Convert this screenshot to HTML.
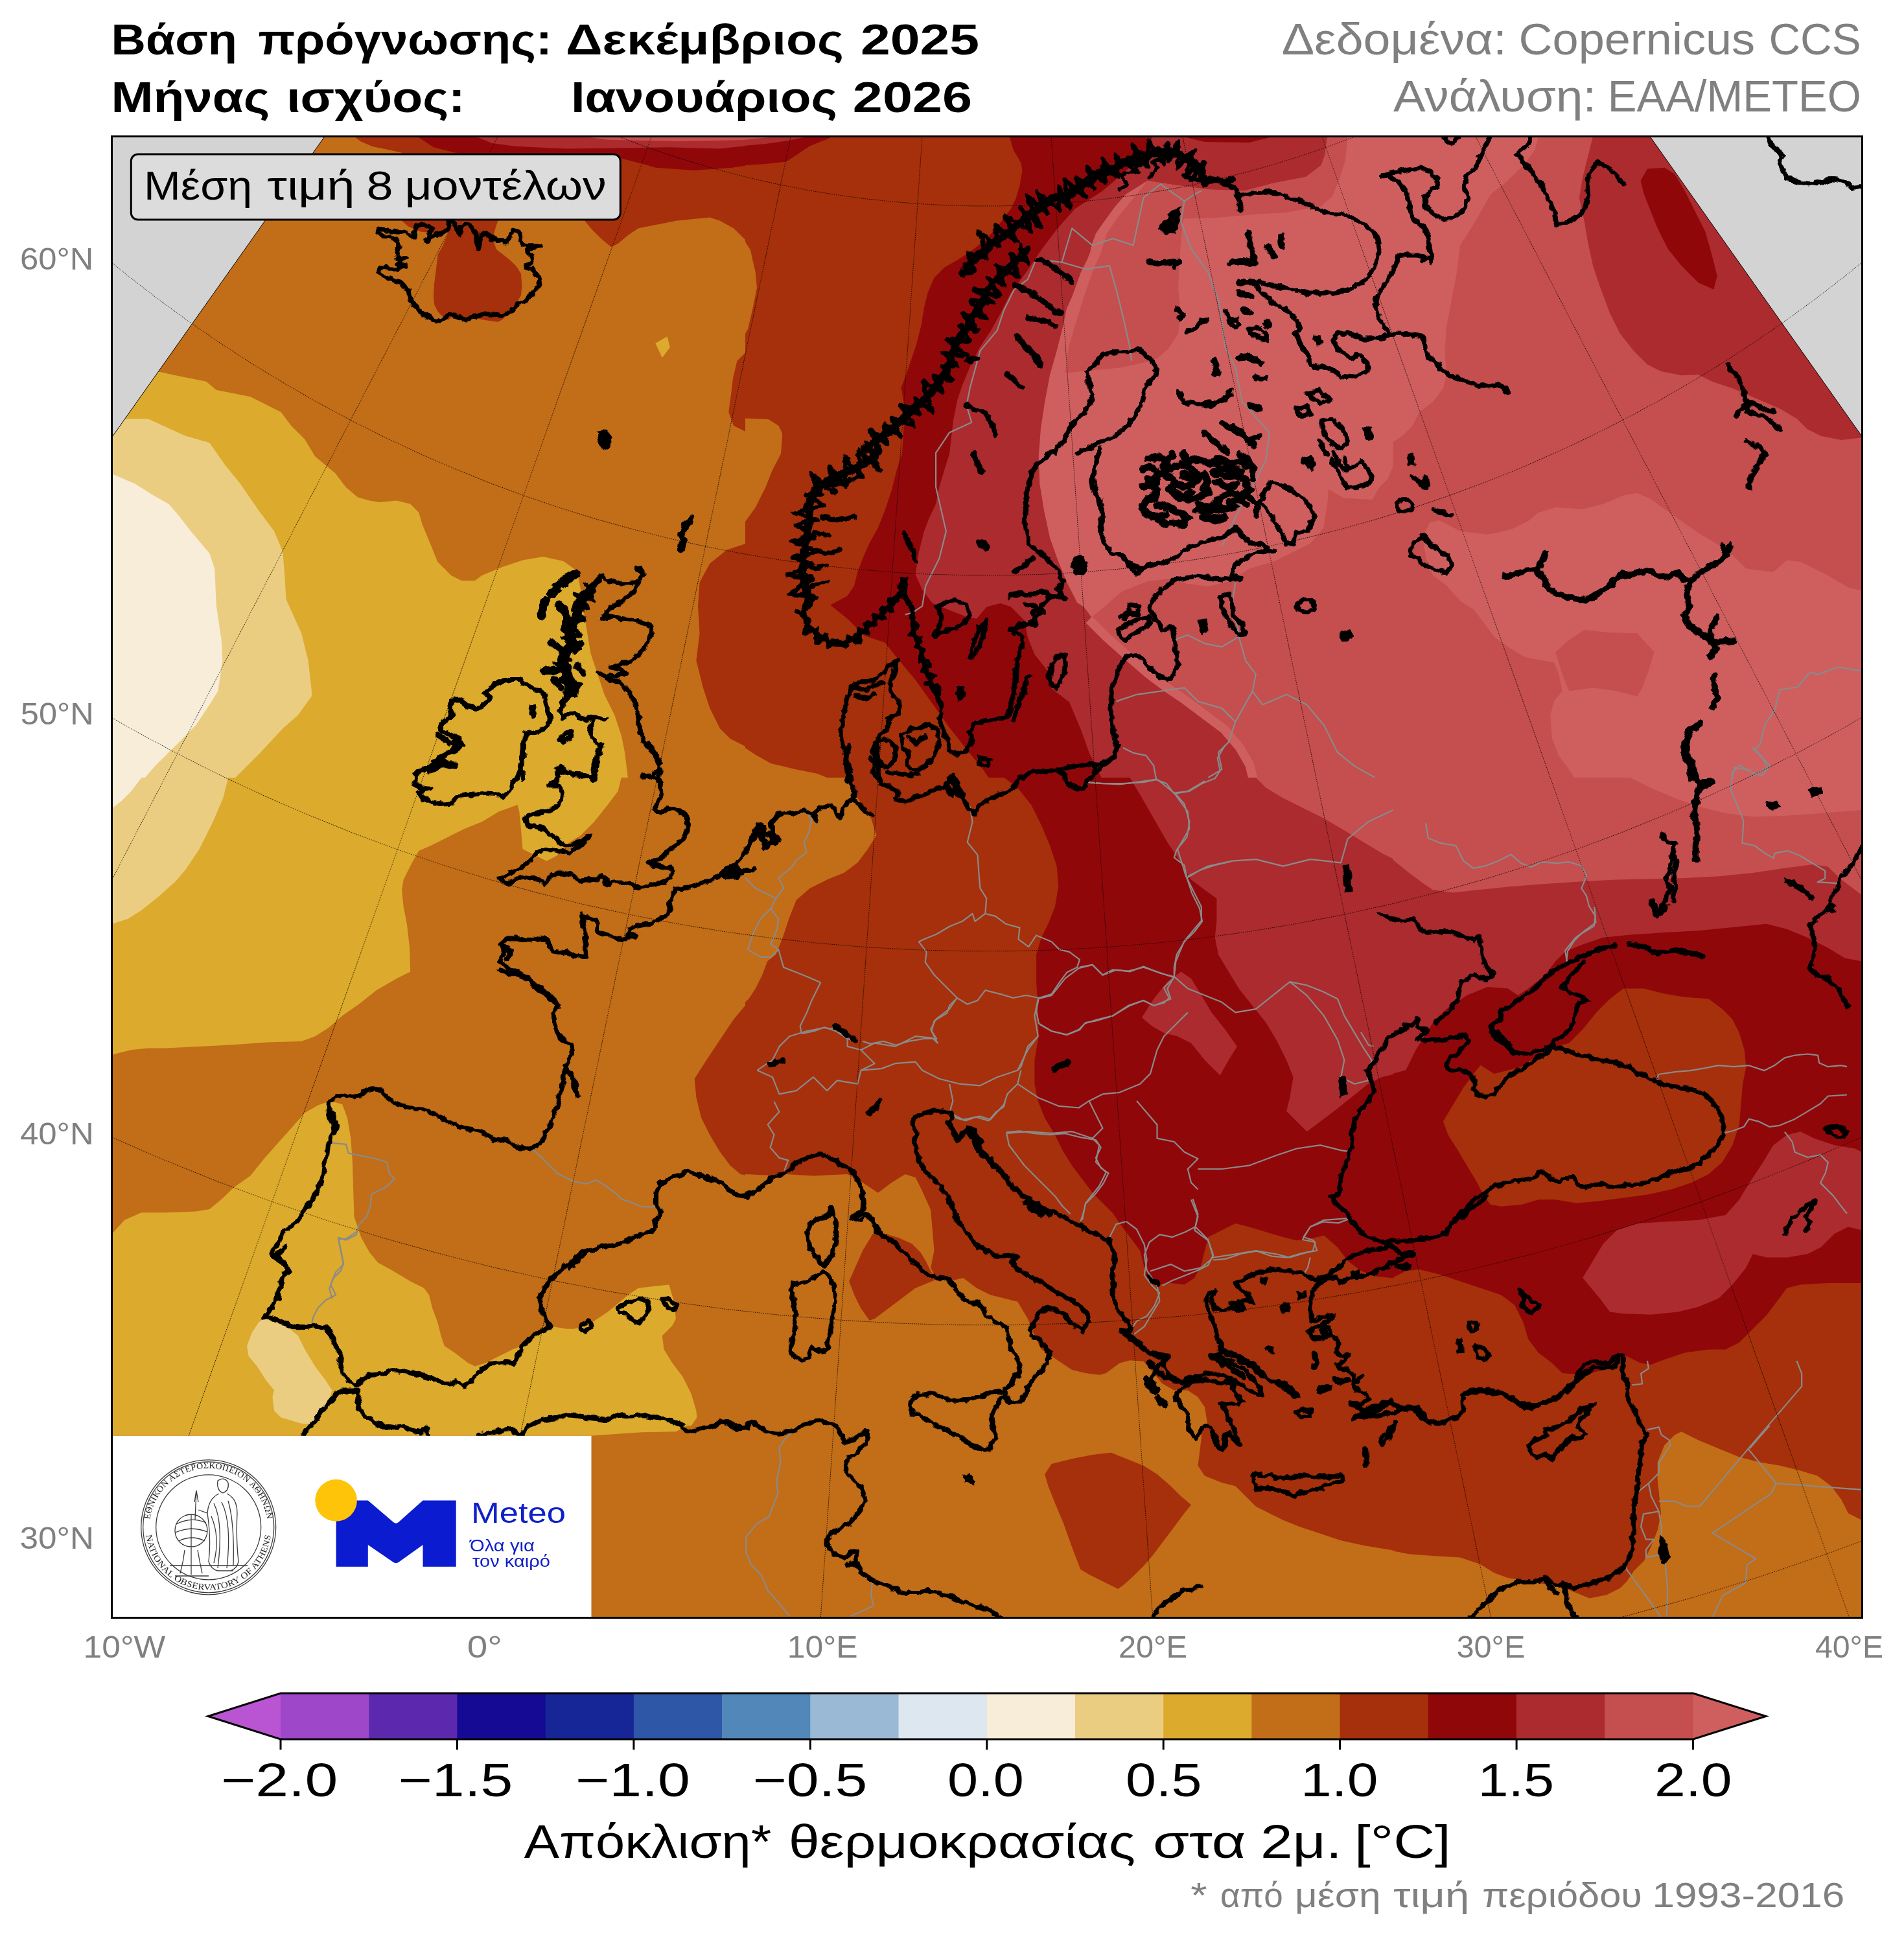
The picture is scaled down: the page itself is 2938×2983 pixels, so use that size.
<!DOCTYPE html>
<html><head><meta charset="utf-8"><title>map</title>
<style>html,body{margin:0;padding:0;background:#fff}svg{display:block}text{font-family:"Liberation Sans",sans-serif}</style>
</head><body>
<svg width="2938" height="2983" viewBox="0 0 2938 2983">
<defs><clipPath id="cA"><rect x="150" y="200" width="1000" height="1000"/></clipPath><clipPath id="cB"><rect x="1150" y="200" width="1000" height="1000"/></clipPath><clipPath id="cC"><rect x="2150" y="200" width="788" height="1000"/></clipPath><clipPath id="cD"><rect x="150" y="1200" width="1000" height="1000"/></clipPath><clipPath id="cE"><rect x="1150" y="1200" width="1000" height="1000"/></clipPath><clipPath id="cF"><rect x="2150" y="1200" width="788" height="1000"/></clipPath><clipPath id="cG"><rect x="150" y="2200" width="1000" height="400"/></clipPath><clipPath id="cH"><rect x="1150" y="2200" width="1000" height="400"/></clipPath><clipPath id="cI"><rect x="2150" y="2200" width="788" height="400"/></clipPath><filter id="rough" x="0" y="0" width="2938" height="2983" filterUnits="userSpaceOnUse"><feTurbulence type="fractalNoise" baseFrequency="0.09" numOctaves="2" seed="3" result="n"/><feDisplacementMap in="SourceGraphic" in2="n" scale="9" xChannelSelector="R" yChannelSelector="G"/></filter><clipPath id="fr"><rect x="172.5" y="210.5" width="2701.0" height="2286.0"/></clipPath></defs>
<rect width="2938" height="2983" fill="#fff"/>
<g clip-path="url(#fr)">
<g shape-rendering="geometricPrecision">
<g clip-path="url(#cA)"><rect x="150" y="200" width="1000" height="1000" fill="#c26d18"/>
<polygon fill="#dcaa2c" points="247.2,573.9 270.8,579.2 318.1,588.7 333.8,601.8 360.1,607.0 386.3,612.3 407.4,622.8 433.6,635.9 449.4,656.9 470.4,677.9 486.1,704.2 517.6,730.5 533.4,751.5 551.8,767.2 570.2,772.5 585.9,775.1 612.2,772.5 633.2,777.7 646.3,790.9 651.6,809.2 664.7,840.8 675.2,867.0 696.2,888.0 712.0,895.9 733.0,895.9 743.5,888.0 775.0,874.9 806.5,864.4 838.0,859.1 869.5,866.0 890.5,881.2 895.8,909.0 901.1,945.8 906.3,977.3 911.6,1008.8 922.1,1040.3 932.6,1071.8 948.3,1103.4 958.8,1134.9 964.1,1161.1 969.3,1203.2 150.0,1203.2 150.0,573.9"/>
<polygon fill="#ebcd82" points="192.0,646.4 228.8,646.4 262.9,662.2 286.6,672.7 323.3,683.2 347.0,717.3 370.6,746.2 399.5,788.2 423.1,819.7 436.2,851.3 438.9,882.8 441.5,924.8 465.1,977.3 475.6,1019.3 480.9,1066.6 480.9,1074.5 459.9,1103.4 436.2,1124.4 402.1,1161.1 381.1,1182.1 360.1,1203.2 150.0,1203.2 150.0,646.4"/>
<polygon fill="#f8edd8" points="173.1,731.5 207.8,746.2 236.7,764.6 260.3,777.7 276.1,796.1 294.4,819.7 323.3,853.9 331.2,877.5 333.8,935.3 341.7,987.8 343.3,1019.3 336.4,1066.6 323.3,1087.6 302.3,1119.1 276.1,1145.4 260.3,1161.1 239.3,1182.1 220.9,1203.2 150.0,1203.2 150.0,731.5"/>
<polygon fill="#a5300b" points="546.5,200.0 546.5,210.5 557.0,218.4 575.4,226.3 601.7,231.5 620.1,235.7 620.1,339.2 901.1,339.2 911.6,352.3 927.3,368.1 943.1,381.2 953.6,375.9 969.3,362.8 985.1,352.3 1011.3,347.1 1042.9,340.8 1074.4,337.6 1095.4,335.5 1111.1,340.8 1132.1,352.3 1153.2,373.3 1153.2,200.0"/>
<polygon fill="#a5300b" points="620.6,305.0 620.6,341.3 630.6,349.7 648.9,357.6 675.2,360.2 691.5,359.1 683.6,378.6 675.7,392.8 672.6,418.0 670.0,437.9 668.9,457.4 670.0,469.4 675.7,481.0 683.6,488.9 691.5,494.1 697.3,488.9 717.2,488.9 736.7,492.0 756.6,495.2 768.2,496.7 773.9,494.1 781.8,487.3 789.7,477.3 797.6,467.3 803.9,455.8 805.5,441.6 803.9,422.2 796.0,410.1 786.0,400.6 776.1,392.8 766.1,384.9 762.4,374.9 762.4,359.1 766.1,347.1 768.2,341.3 768.2,305.0"/>
<polygon fill="#90070a" points="643.7,200.0 645.3,211.6 668.9,227.3 700.4,235.2 727.7,239.4 832.8,241.0 952.5,243.1 990.3,252.5 1011.9,258.8 1070.7,263.0 1130.0,258.8 1154.2,255.1 1154.2,200.0"/>
<polygon fill="#ab2b2e" points="736.1,200.0 736.1,211.6 759.2,221.0 795.0,225.7 873.7,229.4 952.5,228.4 1031.3,227.3 1110.1,229.4 1154.2,224.7 1154.2,200.0"/>
<polygon fill="#c54e4e" points="906.3,200.0 906.3,211.6 937.8,215.8 1042.9,217.9 1154.2,215.8 1154.2,200.0"/>
<polygon fill="#a5300b" points="1153.2,541.4 1137.4,557.1 1131.1,583.4 1127.9,609.7 1124.3,635.9 1132.1,656.9 1153.2,667.4"/>
<polygon fill="#a5300b" points="1153.2,838.1 1121.6,848.6 1095.4,869.6 1079.6,898.5 1077.0,935.3 1079.6,977.3 1074.4,1019.3 1084.9,1061.3 1095.4,1092.9 1111.1,1124.4 1126.9,1140.1 1153.2,1153.3"/>
<polygon fill="#dcaa2c" points="1011.3,529.8 1029.7,519.3 1033.9,536.1 1021.8,551.9"/></g>
<g clip-path="url(#cB)"><rect x="1150" y="200" width="1000" height="1000" fill="#a5300b"/>
<polygon fill="#c26d18" points="1150.0,373.3 1157.9,385.4 1165.8,420.6 1167.9,444.2 1161.6,475.7 1154.2,507.2 1150.0,515.1"/>
<polygon fill="#c26d18" points="1150.0,645.4 1185.7,647.0 1201.5,656.9 1207.2,669.0 1205.1,700.0 1192.0,725.2 1181.5,751.5 1165.8,783.0 1150.0,805.0"/>
<polygon fill="#c26d18" points="1150.0,1154.3 1165.8,1164.8 1189.4,1177.9 1228.8,1187.4 1260.3,1193.7 1286.6,1204.2 1150.0,1204.2"/>
<polygon fill="#90070a" points="1557.6,200.0 1557.6,211.0 1563.9,231.5 1575.4,251.5 1577.5,263.0 1573.3,286.7 1567.5,306.6 1559.7,322.4 1548.1,338.1 1536.0,353.9 1516.6,373.3 1496.6,389.1 1477.2,401.2 1457.2,412.7 1441.5,428.5 1431.5,452.1 1425.7,475.7 1422.1,499.4 1414.2,530.9 1406.3,554.5 1398.4,578.2 1390.5,598.1 1394.2,617.5 1396.3,633.3 1394.2,664.8 1392.1,700.0 1383.7,725.2 1375.8,756.7 1365.3,788.2 1354.8,814.5 1341.7,838.1 1331.2,861.8 1323.3,882.8 1318.1,903.8 1307.6,919.5 1281.3,933.7 1307.6,954.7 1333.8,981.0 1365.3,991.5 1386.3,1017.8 1412.6,1049.3 1438.9,1086.0 1465.1,1122.8 1494.0,1159.6 1517.6,1188.4 1528.2,1204.2 2154.2,1204.2 2154.2,200.0"/>
<polygon fill="#90070a" points="1150.0,200.0 1150.0,255.1 1181.5,253.0 1213.0,249.4 1228.8,239.4 1248.7,225.7 1276.1,214.7 1283.9,211.0 1283.9,200.0"/>
<polygon fill="#ab2b2e" points="1150.0,200.0 1150.0,224.7 1181.5,222.1 1218.3,216.8 1244.5,211.0 1244.5,200.0"/>
<polygon fill="#c54e4e" points="1150.0,200.0 1150.0,215.8 1181.5,212.6 1202.5,211.0 1202.5,200.0"/>
<polygon fill="#ab2b2e" points="1778.7,200.0 1778.7,210.5 1769.7,231.5 1738.2,263.0 1701.5,294.5 1658.4,322.4 1630.6,353.9 1606.9,385.4 1583.3,420.6 1559.7,452.1 1543.9,483.6 1528.2,511.4 1512.4,535.1 1496.6,566.6 1485.1,593.9 1477.2,617.5 1470.9,649.1 1465.1,700.0 1457.2,725.2 1449.4,751.5 1444.1,777.7 1433.6,799.8 1425.7,820.8 1417.9,852.3 1412.6,886.4 1423.1,910.1 1438.9,931.1 1465.1,941.6 1491.4,952.1 1507.1,954.7 1522.9,936.3 1543.9,931.1 1559.7,936.3 1580.7,957.4 1585.9,983.6 1596.4,1009.9 1617.4,1036.1 1622.7,1062.4 1650.0,1083.4 1667.3,1124.4 1680.5,1161.1 1701.5,1204.2 2154.2,1204.2 2154.2,200.0"/>
<polygon fill="#90070a" points="1825.9,200.0 1825.9,211.0 1859.0,218.9 1927.3,220.0 1963.6,211.0 1963.6,200.0"/>
<polygon fill="#cf5f5f" points="2048.1,200.0 2048.1,211.6 2044.4,239.4 2038.7,255.1 2015.0,273.0 1963.6,283.0 1920.5,294.5 1865.3,292.4 1806.0,284.6 1770.8,278.8 1737.2,299.8 1719.9,319.7 1708.8,335.0 1700.9,346.0 1691.0,360.2 1685.2,375.9 1682.0,390.1 1676.8,402.2 1667.9,420.1 1660.0,442.1 1654.2,457.9 1645.8,476.3 1641.1,499.9 1630.6,541.4 1620.1,578.2 1612.2,620.2 1605.9,662.2 1602.7,704.2 1604.3,746.2 1611.1,788.2 1620.1,830.3 1633.2,867.0 1646.3,898.5 1662.1,930.0 1672.1,936.3 1707.8,983.6 1739.3,1011.4 1770.8,1038.8 1802.3,1062.4 1825.9,1078.2 1857.5,1101.8 1889.0,1125.4 1912.6,1153.3 1928.4,1180.6 1934.1,1204.2 2154.2,1204.2 2154.2,200.0"/>
<polygon fill="#c54e4e" points="1770.8,278.8 1806.0,284.6 1865.3,292.4 1920.5,294.5 1963.6,283.0 2015.0,273.0 2038.7,255.1 2044.4,239.4 2048.1,211.6 2079.6,211.6 2075.9,247.3 2066.0,278.8 2056.0,302.4 2038.7,318.2 1983.5,328.2 1944.1,330.3 1876.9,336.0 1825.9,337.6 1821.7,377.5 1819.6,416.4 1818.1,444.2 1821.7,483.6 1818.1,515.1 1802.3,538.8 1786.6,552.4 1770.8,558.2 1727.7,567.6 1643.7,575.5 1648.9,536.1 1659.5,499.9 1672.6,457.9 1685.7,420.1 1698.8,390.1 1707.8,360.2 1725.1,335.0 1754.0,299.8"/>
<polygon fill="#c54e4e" points="1680.5,956.3 1731.4,912.7 1770.8,897.0 1802.3,893.3 1833.8,901.2 1865.3,904.8 1896.8,897.0 1928.4,877.5 1967.8,865.4 1991.4,853.9 2022.9,838.1 2042.3,814.5 2048.1,778.8 2050.2,755.1 2073.8,768.8 2117.4,770.9 2129.0,751.5 2141.1,739.4 2152.6,712.1 2154.2,700.0 2154.2,1204.2 1934.1,1204.2 1928.4,1180.6 1912.6,1153.3 1889.0,1125.4 1857.5,1101.8 1825.9,1078.2 1802.3,1062.4 1770.8,1038.8 1739.3,1011.4 1707.8,983.6"/>
<polyline fill="none" stroke="#cf5f5f" stroke-width="14" stroke-linejoin="round" points="1680.5,956.3 1707.8,983.6 1739.3,1011.4 1770.8,1038.8 1802.3,1062.4 1825.9,1078.2 1857.5,1101.8 1889.0,1125.4 1912.6,1153.3 1928.4,1180.6 1934.1,1204.2"/></g>
<g clip-path="url(#cC)"><rect x="2150" y="200" width="788" height="1000" fill="#c54e4e"/>
<polygon fill="#cf5f5f" points="2095.6,200.0 2373.9,200.0 2373.9,210.5 2368.7,231.5 2352.9,252.5 2326.7,278.8 2300.4,299.8 2279.4,336.6 2263.6,362.8 2253.1,378.6 2247.9,420.6 2240.0,462.6 2232.1,504.6 2229.5,541.4 2232.1,578.2 2226.9,599.2 2211.1,620.2 2190.1,635.9 2179.6,656.9 2163.8,672.7 2148.1,683.2 2132.3,693.7 2121.8,714.7 2116.6,746.2 2095.6,756.7"/>
<polygon fill="#cf5f5f" points="2205.9,806.6 2221.6,802.9 2253.1,819.7 2295.1,825.0 2331.9,817.1 2358.2,804.0 2373.9,790.9 2400.2,783.0 2442.2,785.6 2473.7,777.7 2505.2,764.6 2526.2,760.9 2547.2,769.9 2568.3,785.6 2594.5,804.0 2620.8,822.4 2647.0,838.1 2673.3,856.5 2694.3,877.5 2736.3,882.8 2757.3,864.4 2778.3,867.0 2820.4,888.0 2851.9,906.4 2872.9,911.7 2942.2,914.3 2942.2,1204.2 2431.7,1204.2 2421.2,1187.4 2405.4,1166.4 2394.9,1140.1 2392.3,1103.4 2397.6,1082.4 2410.7,1066.6 2405.4,1040.3 2397.6,1022.0 2379.2,1019.3 2352.9,1014.1 2326.7,998.3 2305.6,982.6 2289.9,961.6 2274.1,940.5 2253.1,927.4 2232.1,903.8 2211.1,888.0 2200.6,861.8 2195.4,830.3"/>
<polygon fill="#c54e4e" points="2400.2,1006.2 2421.2,987.8 2444.8,972.1 2484.2,976.3 2526.2,977.3 2552.5,1006.2 2542.0,1040.3 2534.1,1061.3 2526.2,1074.5 2494.7,1066.6 2458.0,1061.3 2421.2,1066.6 2410.7,1040.3"/>
<polygon fill="#ab2b2e" points="2458.0,200.0 2458.0,210.5 2450.1,242.0 2442.2,273.5 2436.9,305.0 2444.8,341.8 2450.1,373.3 2458.0,410.1 2468.5,441.6 2484.2,483.6 2500.0,515.1 2521.0,541.4 2542.0,562.4 2563.0,572.9 2594.5,579.2 2620.8,578.2 2641.8,588.7 2673.3,599.2 2710.1,614.9 2746.8,630.7 2773.1,646.4 2788.8,662.2 2809.8,672.7 2841.4,679.0 2872.9,675.3 2942.2,675.3 2942.2,200.0"/>
<polygon fill="#90070a" points="2542.0,260.4 2568.3,258.8 2584.0,268.3 2599.8,294.5 2615.5,326.1 2631.3,357.6 2641.8,394.3 2649.7,425.8 2644.4,446.8 2620.8,436.3 2594.5,410.1 2573.5,383.8 2557.7,352.3 2547.2,326.1 2536.7,299.8 2531.5,278.8"/></g>
<g clip-path="url(#cD)"><rect x="150" y="1200" width="1000" height="1000" fill="#dcaa2c"/>
<polygon fill="#ebcd82" points="150.0,1200.0 352.2,1200.0 344.3,1231.5 328.6,1268.3 307.6,1310.3 286.6,1341.8 270.8,1360.2 244.5,1383.8 218.3,1404.8 197.3,1418.0 173.1,1425.8 150.0,1431.1"/>
<polygon fill="#f8edd8" points="150.0,1200.0 218.3,1200.0 202.5,1221.0 186.8,1236.8 173.1,1247.3 150.0,1252.5"/>
<polygon fill="#c26d18" points="958.8,1200.0 953.6,1221.0 937.8,1242.0 916.8,1268.3 895.8,1289.3 874.8,1302.4 859.0,1320.8 843.3,1328.7 827.5,1320.8 806.5,1310.3 803.9,1278.8 801.3,1252.5 798.6,1242.0 769.7,1252.5 743.5,1268.3 717.2,1278.8 685.7,1294.5 664.7,1305.0 646.3,1312.9 635.8,1331.3 622.7,1357.6 620.1,1373.3 622.7,1399.6 627.9,1425.8 632.1,1462.6 633.2,1499.4 612.2,1509.9 580.7,1528.3 554.4,1549.3 528.2,1567.6 507.1,1586.0 486.1,1599.2 465.1,1607.0 412.6,1608.6 360.1,1612.3 307.6,1614.9 255.0,1617.5 228.8,1617.5 202.5,1620.2 181.5,1625.4 173.1,1628.0 150.0,1630.7 150.0,1919.5 173.1,1903.8 192.0,1882.8 218.3,1871.2 255.0,1871.2 302.3,1869.6 323.3,1866.0 344.3,1848.6 360.1,1832.9 386.3,1814.5 407.4,1788.2 428.4,1764.6 449.4,1741.0 470.4,1717.3 491.4,1705.3 509.8,1698.9 528.2,1704.2 536.0,1725.2 541.3,1756.7 543.9,1793.5 545.0,1830.3 546.5,1877.5 557.0,1909.0 570.2,1932.7 583.3,1948.4 606.9,1961.6 633.2,1977.3 654.2,1987.8 662.1,1998.3 667.3,2019.3 675.2,2040.3 680.5,2061.3 685.7,2077.1 701.5,2087.6 722.5,2103.4 733.0,2108.6 748.7,2103.4 769.7,2092.9 790.8,2082.4 811.8,2074.5 822.3,2066.6 832.8,2053.5 848.5,2046.6 874.8,2050.8 885.3,2050.8 906.3,2045.6 922.1,2035.1 937.8,2024.6 953.6,2011.4 969.3,1998.3 985.1,1987.8 1006.1,1985.2 1032.4,1982.6 1040.2,2008.8 1042.9,2035.1 1037.6,2045.6 1021.8,2061.3 1024.5,2082.4 1037.6,2103.4 1053.4,2124.4 1066.5,2150.6 1074.4,2176.9 1075.4,2187.4 1066.5,2200.5 1066.5,2204.2 1154.2,2204.2 1154.2,1200.0"/>
<polygon fill="#a5300b" points="1154.2,1546.6 1132.1,1572.9 1111.1,1604.4 1090.1,1635.9 1071.7,1664.8 1074.4,1693.7 1082.2,1725.2 1095.4,1751.5 1111.1,1777.7 1126.9,1798.7 1142.6,1811.9 1154.2,1814.5"/>
<polygon fill="#ebcd82" points="407.4,2035.1 423.1,2040.3 444.1,2048.2 459.9,2061.3 470.4,2082.4 486.1,2108.6 501.9,2129.6 512.4,2145.4 507.1,2161.1 496.6,2182.1 486.1,2197.9 465.1,2196.8 433.6,2187.4 423.1,2176.9 420.5,2155.9 423.1,2145.4 410.0,2129.6 396.8,2108.6 383.7,2092.9 381.1,2077.1 389.0,2056.1 399.5,2040.3"/></g>
<g clip-path="url(#cE)"><rect x="1150" y="1200" width="1000" height="1000" fill="#a5300b"/>
<polygon fill="#c26d18" points="1150.0,1200.0 1307.6,1200.0 1323.3,1231.5 1344.3,1263.0 1352.2,1289.3 1339.1,1310.3 1323.3,1331.3 1302.3,1347.1 1276.1,1357.6 1249.8,1370.7 1228.8,1389.1 1218.3,1415.3 1207.8,1446.8 1197.3,1473.1 1184.1,1483.6 1176.3,1504.6 1165.8,1525.6 1155.3,1541.4 1150.0,1546.6"/>
<polygon fill="#c26d18" points="1150.0,1811.9 1181.5,1813.4 1213.0,1811.9 1255.0,1814.5 1307.6,1811.9 1323.3,1819.7 1339.1,1830.3 1354.8,1840.8 1375.8,1825.0 1396.8,1811.9 1412.6,1817.1 1423.1,1838.1 1436.2,1867.0 1438.9,1898.5 1441.5,1930.0 1436.2,1956.3 1444.1,1972.1 1465.1,1977.3 1486.1,1972.1 1507.1,1987.8 1528.2,1998.3 1549.2,2003.6 1570.2,2008.8 1585.9,2035.1 1596.4,2061.3 1606.9,2082.4 1622.7,2092.9 1638.4,2103.4 1654.2,2113.9 1675.2,2119.1 1696.2,2121.7 1706.7,2119.1 1727.7,2103.4 1743.5,2099.2 1764.5,2100.7 1780.3,2119.1 1793.4,2134.9 1811.8,2145.4 1832.8,2145.4 1848.5,2155.9 1859.0,2171.6 1864.3,2204.2 1150.0,2204.2"/>
<polygon fill="#a5300b" points="1310.2,1977.3 1331.2,1930.0 1347.0,1903.8 1365.3,1903.8 1386.3,1910.1 1407.4,1919.5 1420.5,1932.7 1428.4,1945.8 1436.2,1961.6 1444.1,1974.7 1412.6,1987.8 1391.6,2003.6 1370.6,2019.3 1349.6,2035.1 1341.7,2037.7 1328.6,2019.3 1318.1,1998.3"/>
<polygon fill="#90070a" points="1549.2,1200.0 1570.2,1215.8 1591.2,1242.0 1606.9,1273.5 1620.1,1305.0 1630.6,1336.6 1633.2,1368.1 1627.9,1399.6 1617.4,1425.8 1606.9,1446.8 1599.1,1473.1 1599.1,1515.1 1601.7,1557.1 1602.7,1599.2 1596.4,1635.9 1596.4,1672.7 1601.7,1698.9 1612.2,1725.2 1627.9,1751.5 1641.1,1777.7 1654.2,1798.7 1670.0,1819.7 1685.7,1840.8 1701.5,1856.5 1717.2,1872.3 1727.7,1888.0 1743.5,1909.0 1759.2,1930.0 1764.5,1951.1 1769.7,1972.1 1780.3,1982.6 1806.5,1979.9 1827.5,1982.6 1843.3,1972.1 1853.8,1951.1 1859.0,1930.0 1864.3,1909.0 1885.3,1898.5 1906.3,1888.0 1927.3,1893.3 1953.6,1901.2 1979.8,1909.0 2000.8,1914.3 2021.8,1911.7 2042.9,1906.4 2063.9,1924.8 2079.6,1945.8 2100.6,1961.6 2121.6,1969.4 2154.2,1973.1 2154.2,1200.0"/>
<polygon fill="#ab2b2e" points="1743.5,1200.0 1759.2,1226.3 1780.3,1263.0 1801.3,1299.8 1822.3,1331.3 1838.0,1357.6 1859.0,1373.3 1877.4,1386.4 1877.4,1420.6 1874.8,1446.8 1880.0,1473.1 1895.8,1499.4 1911.6,1525.6 1932.6,1551.9 1953.6,1578.2 1969.3,1604.4 1985.1,1635.9 1995.6,1662.2 1990.3,1693.7 1985.1,1714.7 2000.8,1730.5 2016.6,1746.2 2037.6,1730.5 2058.6,1714.7 2084.9,1693.7 2111.1,1672.7 2132.1,1662.2 2154.2,1656.9 2154.2,1200.0"/>
<polygon fill="#ab2b2e" points="1761.9,1570.3 1780.3,1541.4 1801.3,1515.1 1822.3,1499.4 1838.0,1509.9 1853.8,1536.1 1869.5,1562.4 1890.5,1588.7 1908.9,1614.9 1895.8,1635.9 1882.7,1659.6 1859.0,1635.9 1838.0,1609.7 1817.0,1599.2 1796.0,1593.9 1777.6,1583.4"/>
<polygon fill="#c54e4e" points="1937.8,1200.0 1953.6,1215.8 1979.8,1231.5 2011.3,1247.3 2042.9,1263.0 2074.4,1281.4 2105.9,1300.8 2132.1,1316.6 2154.2,1327.6 2154.2,1200.0"/></g>
<g clip-path="url(#cF)"><rect x="2150" y="1200" width="788" height="1000" fill="#90070a"/>
<polygon fill="#ab2b2e" points="1938.0,1200.0 1938.0,1546.6 1959.0,1578.2 1982.6,1725.2 2016.8,1746.2 2043.0,1725.2 2074.6,1698.9 2095.6,1683.2 2116.6,1667.4 2148.1,1656.9 2169.1,1651.7 2184.8,1620.2 2211.1,1578.2 2232.1,1557.1 2263.6,1536.1 2295.1,1523.0 2326.7,1525.6 2342.4,1536.1 2358.2,1525.6 2384.4,1504.6 2400.2,1483.6 2415.9,1467.9 2442.2,1457.4 2473.7,1446.8 2515.7,1442.6 2568.3,1439.0 2620.8,1436.3 2673.3,1431.1 2725.8,1425.8 2757.3,1433.7 2788.8,1446.8 2820.4,1462.6 2846.6,1478.4 2872.9,1483.6 2942.2,1486.2 2942.2,1200.0"/>
<polygon fill="#c54e4e" points="1938.0,1200.0 1938.0,1215.8 1969.5,1231.5 2006.3,1242.0 2043.0,1257.8 2079.8,1284.0 2111.3,1305.0 2148.1,1326.1 2174.3,1347.1 2195.4,1362.8 2211.1,1373.3 2242.6,1377.5 2279.4,1373.3 2331.9,1368.1 2384.4,1363.9 2442.2,1360.2 2494.7,1357.6 2547.2,1356.5 2599.8,1354.9 2652.3,1352.3 2704.8,1347.1 2757.3,1339.2 2799.3,1333.9 2820.4,1337.6 2841.4,1357.6 2862.4,1373.3 2872.9,1381.2 2942.2,1383.8 2942.2,1200.0"/>
<polygon fill="#cf5f5f" points="2515.7,1200.0 2547.2,1215.8 2584.0,1231.5 2620.8,1244.6 2662.8,1255.1 2704.8,1260.4 2757.3,1258.8 2809.8,1255.1 2872.9,1249.9 2942.2,1249.9 2942.2,1200.0"/>
<polygon fill="#a5300b" points="2226.9,1730.5 2242.6,1704.2 2258.4,1677.9 2274.1,1656.9 2284.6,1643.8 2305.6,1656.9 2347.7,1646.4 2384.4,1620.2 2400.2,1614.9 2421.2,1609.7 2442.2,1588.7 2463.2,1562.4 2484.2,1541.4 2505.2,1525.6 2536.7,1525.6 2568.3,1533.5 2599.8,1538.8 2636.5,1541.4 2657.5,1557.1 2673.3,1572.9 2683.8,1593.9 2691.7,1620.2 2694.3,1646.4 2689.1,1672.7 2686.4,1704.2 2683.8,1735.7 2673.3,1767.2 2657.5,1793.5 2636.5,1811.9 2610.3,1825.0 2578.8,1835.5 2542.0,1843.4 2505.2,1848.6 2463.2,1853.9 2431.7,1856.5 2400.2,1851.3 2373.9,1851.3 2347.7,1859.1 2316.2,1861.8 2300.4,1859.1 2289.9,1846.0 2279.4,1825.0 2263.6,1798.7 2247.9,1772.5 2234.7,1751.5"/>
<polygon fill="#ab2b2e" points="2442.2,1972.1 2458.0,1945.8 2473.7,1919.5 2494.7,1898.5 2526.2,1888.0 2568.3,1885.4 2620.8,1882.8 2662.8,1874.9 2683.8,1851.3 2699.6,1825.0 2720.6,1793.5 2736.3,1767.2 2757.3,1751.5 2778.3,1746.2 2799.3,1756.7 2830.9,1767.2 2862.4,1772.5 2872.9,1777.7 2942.2,1777.7 2942.2,1898.5 2872.9,1898.5 2851.9,1893.3 2830.9,1903.8 2809.8,1924.8 2788.8,1935.3 2757.3,1940.5 2725.8,1940.5 2704.8,1935.3 2694.3,1956.3 2673.3,1982.6 2652.3,2003.6 2620.8,2016.7 2589.3,2024.6 2547.2,2028.8 2505.2,2027.2 2484.2,2024.6 2468.5,2003.6 2455.3,1987.8"/>
<polygon fill="#a5300b" points="1938.0,1895.9 1969.5,1906.4 1995.8,1919.5 2022.0,1909.0 2043.0,1909.0 2064.1,1935.3 2090.3,1956.3 2116.6,1966.8 2148.1,1972.1 2169.1,1961.6 2190.1,1958.9 2221.6,1966.8 2253.1,1977.3 2284.6,1987.8 2316.2,1998.3 2337.2,2014.1 2350.3,2040.3 2358.2,2066.6 2373.9,2087.6 2394.9,2103.4 2410.7,2119.1 2442.2,2121.7 2473.7,2113.9 2494.7,2103.4 2510.5,2092.9 2531.5,2103.4 2547.2,2106.0 2568.3,2098.1 2599.8,2087.6 2636.5,2082.4 2662.8,2082.4 2683.8,2071.8 2704.8,2050.8 2725.8,2029.8 2741.6,2008.8 2757.3,1987.8 2778.3,1982.6 2820.4,1979.9 2872.9,1979.9 2942.2,1979.9 2942.2,2204.2 1938.0,2204.2"/></g>
<g clip-path="url(#cG)"><rect x="150" y="2200" width="1000" height="400" fill="#c26d18"/>
<polygon fill="#dcaa2c" points="150.0,2177.7 1077.0,2177.7 1077.0,2183.0 1063.9,2198.7 1042.9,2209.2 990.3,2210.3 913.1,2215.5 150.0,2215.5"/></g>
<g clip-path="url(#cH)"><rect x="1150" y="2200" width="1000" height="400" fill="#c26d18"/>
<polygon fill="#a5300b" points="1612.2,2274.9 1622.7,2259.1 1654.2,2251.3 1685.7,2245.0 1714.6,2241.8 1738.2,2251.3 1764.5,2261.8 1785.5,2274.9 1806.5,2293.3 1822.3,2309.0 1838.0,2322.2 1827.5,2335.3 1811.8,2356.3 1796.0,2377.3 1780.3,2398.3 1764.5,2416.7 1748.7,2432.5 1733.0,2446.6 1725.1,2451.9 1701.5,2440.3 1680.5,2429.8 1667.3,2422.0 1654.2,2387.8 1641.1,2351.1 1627.9,2319.5 1617.4,2293.3"/>
<polygon fill="#a5300b" points="1853.8,2177.7 1853.8,2219.7 1848.5,2261.8 1859.0,2277.5 1885.3,2288.0 1906.3,2293.3 1922.1,2309.0 1937.8,2324.8 1958.8,2335.3 1979.8,2345.8 2006.1,2356.3 2037.6,2366.8 2069.1,2377.3 2105.9,2385.2 2154.2,2393.1 2154.2,2177.7"/></g>
<g clip-path="url(#cI)"><rect x="2150" y="2200" width="788" height="400" fill="#a5300b"/>
<polygon fill="#c26d18" points="1938.0,2319.5 1990.5,2335.3 2043.0,2356.3 2095.6,2377.3 2148.1,2393.1 2174.3,2398.3 2211.1,2400.9 2253.1,2403.6 2284.6,2414.1 2305.6,2427.2 2326.7,2435.1 2358.2,2440.3 2389.7,2445.6 2421.2,2453.5 2452.7,2466.6 2479.0,2461.3 2500.0,2450.8 2510.5,2440.3 2521.0,2424.6 2536.7,2408.8 2547.2,2387.8 2557.7,2361.6 2563.0,2335.3 2560.4,2309.0 2557.7,2282.8 2557.7,2256.5 2568.3,2230.3 2584.0,2214.5 2594.5,2209.2 2620.8,2222.4 2652.3,2235.5 2683.8,2248.6 2715.3,2256.5 2746.8,2261.8 2778.3,2269.6 2804.6,2277.5 2825.6,2293.3 2841.4,2314.3 2851.9,2335.3 2862.4,2340.5 2872.9,2345.8 2942.2,2345.8 2942.2,2604.2 1938.0,2604.2"/></g>
</g>
<polygon points="172.5,210.5 501,210.5 172.5,675" fill="#d3d3d3" stroke="#000" stroke-width="1"/>
<polygon points="2873.5,210.5 2546,210.5 2873.5,674" fill="#d3d3d3" stroke="#000" stroke-width="1"/>
<g fill="none" stroke="#8a8a8a" stroke-width="2.2" stroke-linejoin="round">
<g clip-path="url(#cA)"></g>
<g clip-path="url(#cB)"><polyline points="1599.1,399.6 1585.9,431.1 1564.9,446.8 1549.2,478.4 1538.7,509.9 1512.4,541.4 1496.6,599.2 1491.4,625.4 1499.3,651.7 1465.1,667.4 1444.1,698.9 1444.1,751.5 1459.9,819.7 1449.4,861.8 1428.4,903.8 1423.1,935.3 1407.4,945.8 1396.8,948.4"/>
<polyline points="1599.1,399.6 1638.4,404.8 1654.2,352.3 1685.7,378.6 1717.2,368.1 1748.7,378.6 1764.5,305.0 1790.8,284.0 1827.5,310.3 1843.3,299.8 1853.8,294.5"/>
<polyline points="1638.4,404.8 1675.2,415.3 1712.0,410.1 1722.5,446.8 1733.0,488.9 1743.5,536.1 1746.1,557.1"/>
<polyline points="1827.5,310.3 1822.3,341.8 1838.0,383.8 1864.3,420.6 1880.0,462.6 1885.3,494.1 1890.5,536.1 1906.3,567.6 1916.8,620.2 1958.8,667.4 1953.6,709.5 1937.8,741.0 1916.8,777.7 1895.8,819.7 1885.3,843.4"/>
<polyline points="1906.3,898.5 1901.1,935.3 1911.6,977.3"/>
<polyline points="1811.8,987.8 1832.8,979.9 1859.0,993.1 1885.3,998.3 1911.6,982.6"/>
<polyline points="1911.6,982.6 1922.1,1019.3 1937.8,1040.3 1932.6,1066.6 1948.3,1087.6"/>
<polyline points="1722.5,1082.4 1754.0,1071.8 1790.8,1066.6 1827.5,1061.3 1848.5,1082.4 1885.3,1092.9 1906.3,1113.9 1932.6,1066.6"/>
<polyline points="1906.3,1113.9 1895.8,1145.4 1880.0,1161.1 1885.3,1187.4 1864.3,1200.0"/>
<polyline points="1948.3,1087.6 1985.1,1071.8 2016.6,1087.6 2042.9,1119.1 2063.9,1161.1 2090.1,1182.1 2121.6,1200.0"/></g>
<g clip-path="url(#cC)"></g>
<g clip-path="url(#cD)"></g>
<g clip-path="url(#cE)"><polyline points="1168.4,1651.7 1192.0,1662.2 1202.5,1688.4 1228.8,1683.2 1255.0,1662.2 1276.1,1683.2 1291.8,1667.4 1323.3,1672.7 1328.6,1651.7 1349.6,1641.2 1328.6,1620.2 1307.6,1614.9 1307.6,1601.8 1291.8,1588.7 1270.8,1586.0 1244.5,1591.3 1218.3,1599.2 1202.5,1614.9 1192.0,1635.9 1168.4,1651.7"/>
<polyline points="1328.6,1620.2 1349.6,1609.7 1381.1,1614.9 1412.6,1599.2 1438.9,1601.8 1446.7,1609.7 1436.2,1588.7 1444.1,1572.9 1465.1,1557.1 1475.6,1541.4"/>
<polyline points="1328.6,1651.7 1360.1,1649.1 1381.1,1641.2 1412.6,1638.6 1423.1,1651.7 1449.4,1664.8 1480.9,1672.7 1512.4,1675.3 1538.7,1662.2 1570.2,1651.7 1585.9,1620.2 1601.7,1599.2"/>
<polyline points="1601.7,1541.4 1596.4,1567.6 1601.7,1599.2 1585.9,1614.9 1575.4,1646.4 1570.2,1651.7"/>
<polyline points="1465.1,1672.7 1470.4,1698.9 1465.1,1717.3 1486.1,1727.8 1512.4,1722.6 1528.2,1727.8 1549.2,1704.2 1554.4,1688.4 1570.2,1672.7 1575.4,1651.7"/>
<polyline points="1570.2,1672.7 1601.7,1693.7 1633.2,1706.8 1664.7,1709.5 1680.5,1698.9 1701.5,1688.4 1727.7,1685.8 1759.2,1672.7 1775.0,1656.9 1785.5,1620.2 1796.0,1599.2 1817.0,1578.2 1832.8,1562.4"/>
<polyline points="1601.7,1541.4 1622.7,1536.1 1643.7,1509.9 1664.7,1494.1 1685.7,1488.9 1701.5,1504.6 1722.5,1496.7 1743.5,1499.4 1764.5,1491.5 1790.8,1502.0 1811.8,1507.2 1801.3,1525.6 1806.5,1541.4 1780.3,1551.9 1764.5,1544.0 1743.5,1551.9 1717.2,1567.6 1691.0,1575.5 1675.2,1578.2 1664.7,1588.7 1646.3,1596.5 1622.7,1591.3 1604.3,1580.8"/>
<polyline points="1554.4,1748.8 1585.9,1746.2 1622.7,1748.8 1654.2,1746.2 1685.7,1756.7 1701.5,1741.0 1680.5,1698.9"/>
<polyline points="1685.7,1756.7 1696.2,1767.2 1691.0,1793.5 1706.7,1809.2 1696.2,1830.3 1675.2,1856.5 1670.0,1882.8"/>
<polyline points="1754.0,1698.9 1785.5,1735.7 1785.5,1756.7 1811.8,1762.0 1827.5,1777.7 1848.5,1788.2 1832.8,1804.0 1838.0,1825.0 1848.5,1835.5"/>
<polyline points="1848.5,1804.0 1885.3,1804.0 1927.3,1798.7 1969.3,1783.0 2000.8,1772.5 2037.6,1767.2 2069.1,1775.1 2084.9,1777.7"/>
<polyline points="1811.8,1507.2 1832.8,1525.6 1859.0,1536.1 1885.3,1546.6 1906.3,1562.4 1937.8,1557.1 1964.1,1536.1 1990.3,1515.1 2016.6,1520.4 2042.9,1530.9 2063.9,1541.4 2074.4,1567.6 2090.1,1593.9 2105.9,1620.2 2116.4,1635.9"/>
<polyline points="1990.3,1515.1 2016.6,1536.1 2042.9,1567.6 2063.9,1604.4 2074.4,1635.9 2069.1,1662.2 2090.1,1672.7 2111.1,1667.4 2116.4,1635.9"/>
<polyline points="1838.0,1851.3 1848.5,1877.5 1843.3,1898.5 1864.3,1914.3 1872.2,1940.5 1853.8,1956.3 1827.5,1961.6 1806.5,1951.1 1775.0,1961.6"/>
<polyline points="1872.2,1940.5 1906.3,1935.3 1937.8,1930.0 1969.3,1935.3 1990.3,1940.5 2016.6,1932.7 2032.4,1930.0 2027.1,1914.3 2011.3,1909.0 2021.8,1893.3 2042.9,1882.8 2079.6,1880.1"/>
<polyline points="1832.8,1352.3 1864.3,1336.6 1901.1,1328.7 1937.8,1326.1 1979.8,1336.6 2021.8,1326.1 2069.1,1331.3 2079.6,1294.5 2111.1,1268.3 2150.0,1249.9"/>
<polyline points="1680.5,1207.9 1727.7,1210.5 1785.5,1202.6 1811.8,1223.6 1832.8,1221.0 1859.0,1205.3"/>
<polyline points="1811.8,1223.6 1832.8,1252.5 1835.4,1278.8 1817.0,1310.3 1830.1,1352.3 1853.8,1399.6 1853.8,1420.6 1827.5,1452.1 1814.4,1483.6 1811.8,1507.2"/></g>
<g clip-path="url(#cF)"></g>
<g clip-path="url(#cG)"></g>
<g clip-path="url(#cH)"></g>
<g clip-path="url(#cI)"><polyline points="2515.7,2141.0 2534.1,2135.7 2536.7,2114.7 2542.0,2093.7 2568.3,2080.6 2599.8,2067.4 2636.5,2046.4 2673.3,2035.9 2715.3,2020.2 2757.3,1999.2 2783.6,1967.6 2799.3,1951.9 2830.9,1946.6 2872.9,1941.4"/>
<polyline points="2757.3,1999.2 2752.1,2030.7 2773.1,2072.7 2781.0,2114.7 2773.1,2151.5 2736.3,2193.5 2699.6,2235.5"/></g>
<g><polyline points="2460.4,1400.0 2462.4,1423.6 2446.6,1435.5 2430.9,1447.3 2415.1,1467.0 2419.1,1490.6"/>
<polyline points="2556.9,1667.9 2558.9,1658.0 2584.5,1654.1 2608.1,1652.1 2631.8,1648.2 2651.5,1644.2 2675.1,1646.2 2698.7,1644.2 2722.4,1652.1 2738.1,1644.2 2753.9,1632.4 2769.6,1628.5 2789.3,1626.5 2805.1,1628.5 2807.1,1640.3 2820.8,1646.2 2840.5,1644.2 2850.0,1646.2"/>
<polyline points="2659.3,1748.6 2675.1,1744.7 2690.9,1738.8 2698.7,1726.9 2714.5,1730.9 2730.2,1738.8 2746.0,1736.8 2769.6,1726.9 2789.3,1715.1 2809.0,1703.3 2820.8,1691.5 2850.0,1689.5"/>
<polyline points="2753.9,1746.6 2765.7,1762.4 2769.6,1778.1 2789.3,1786.0 2809.0,1782.1 2820.8,1793.9 2816.9,1809.7 2809.0,1825.4 2828.7,1845.1 2840.5,1860.9 2850.0,1872.7"/>
<polyline points="2100.0,1593.0 2111.8,1612.7 2119.7,1614.7"/></g>
<g><polyline points="1240.6,1250.4 1252.4,1264.2 1248.5,1283.9 1240.6,1299.7 1244.5,1315.4 1228.8,1327.3 1220.9,1339.1 1201.2,1354.8 1209.1,1370.6 1197.3,1386.3 1189.4,1402.1 1201.2,1417.9 1199.2,1433.6"/>
<polyline points="1150.0,1354.8 1165.8,1370.6 1189.4,1382.4 1197.3,1386.3"/>
<polyline points="1199.2,1433.6 1189.4,1457.2 1201.2,1465.1 1209.1,1492.7 1228.8,1500.6 1248.5,1508.5 1266.2,1516.3 1252.4,1543.9 1244.5,1563.6 1234.7,1583.3 1236.7,1595.1"/>
<polyline points="1236.7,1595.1 1256.4,1591.2 1272.1,1585.3 1289.8,1591.2 1307.6,1603.0 1323.3,1606.9"/>
<polyline points="1496.6,1244.5 1500.6,1268.2 1492.7,1299.7 1508.5,1319.4 1510.4,1347.0 1512.4,1370.6 1522.2,1386.3 1520.3,1410.0"/>
<polyline points="1520.3,1410.0 1504.5,1421.8 1500.6,1410.0 1484.8,1421.8 1465.1,1429.7 1445.4,1441.5 1425.7,1449.4 1417.9,1453.3 1429.7,1469.1 1427.7,1484.8 1441.5,1504.5 1457.2,1520.3 1476.9,1540.0 1492.7,1549.8 1508.5,1543.9 1520.3,1528.1 1543.9,1534.1 1563.6,1540.0 1583.3,1536.0 1603.0,1540.0 1622.7,1534.1 1634.5,1516.3 1646.3,1500.6 1662.1,1492.7 1666.0,1480.9 1650.3,1469.1 1634.5,1465.1 1622.7,1453.3 1599.0,1443.5 1587.2,1461.2 1571.5,1449.4 1573.4,1431.6 1551.8,1425.7 1536.0,1413.9 1520.3,1410.0"/>
<polyline points="1666.0,1492.7 1685.7,1488.8 1701.5,1504.5 1717.2,1496.6 1740.9,1498.6 1764.5,1492.7 1788.1,1500.6 1811.8,1508.5"/>
<polyline points="1476.9,1540.0 1465.1,1551.8 1461.2,1563.6 1441.5,1575.4 1437.5,1591.2 1445.4,1603.0 1425.7,1603.0 1402.1,1606.9 1382.4,1612.8 1362.7,1606.9 1343.0,1610.9 1331.2,1606.9"/>
<polyline points="1603.0,1540.0 1599.0,1559.7 1603.0,1579.4 1622.7,1591.2 1646.3,1597.1 1666.0,1589.2 1673.9,1579.4 1693.6,1573.4 1717.2,1567.5 1740.9,1551.8 1764.5,1543.9 1780.2,1551.8 1796.0,1547.8 1803.9,1540.0 1796.0,1524.2 1811.8,1508.5"/>
<polyline points="1813.7,1224.8 1827.5,1240.6 1835.4,1268.2 1831.5,1291.8 1815.7,1311.5 1811.8,1323.3 1827.5,1335.1 1831.5,1354.8 1839.3,1378.5 1851.1,1402.1 1855.1,1421.8 1843.3,1437.5 1827.5,1453.3 1815.7,1473.0 1811.8,1492.7 1811.8,1508.5"/>
<polyline points="1677.8,1207.1 1701.5,1209.1 1733.0,1209.1 1764.5,1207.1 1784.2,1203.2 1780.2,1181.5 1768.4,1165.8 1748.7,1161.8 1733.0,1153.9"/>
<polyline points="1784.2,1203.2 1799.9,1209.1 1811.8,1224.8 1835.4,1220.9 1855.1,1209.1 1874.8,1201.2 1882.7,1189.4 1878.7,1169.7 1890.5,1150.0"/>
<polyline points="1831.5,1354.8 1851.1,1343.0 1874.8,1335.1 1900.0,1329.2"/>
<polyline points="1189.4,1402.1 1173.6,1417.9 1161.8,1441.5 1153.9,1465.1 1173.6,1476.9 1189.4,1476.9 1201.2,1465.1"/></g>
<g></g>
<g></g>
<g><polyline points="1840.6,1850.0 1848.5,1873.6 1844.5,1893.3 1828.8,1901.2 1809.1,1909.1 1789.4,1905.1 1773.6,1917.0 1765.8,1936.7 1769.7,1960.3 1785.5,1983.9 1789.4,2007.6 1777.6,2027.3 1765.8,2047.0 1750.0,2058.8"/>
<polyline points="1844.5,1893.3 1864.2,1913.0 1872.1,1936.7 1864.2,1952.4 1848.5,1960.3 1828.8,1968.2 1809.1,1976.0 1793.3,1983.9"/>
<polyline points="1872.1,1944.5 1891.8,1942.6 1915.4,1934.7 1939.1,1930.7 1962.7,1938.6 1986.3,1940.6 2006.0,1934.7 2025.7,1930.7 2029.7,1917.0 2010.0,1913.0 2021.8,1893.3 2041.5,1885.5 2065.1,1887.4 2080.9,1881.5"/>
<polyline points="2021.8,1940.6 2017.9,1956.4 2011.9,1966.2"/></g>
<g><polyline points="512.3,1763.9 533.9,1765.9 537.9,1779.7 557.6,1783.6 577.3,1787.5 597.0,1793.5 600.9,1811.2 608.8,1819.1 597.0,1830.9 573.3,1842.7 571.3,1862.4 565.4,1878.1 553.6,1890.0 549.7,1905.7 533.9,1913.6 522.1,1909.7 526.0,1929.4 530.0,1949.0 526.0,1960.9 514.2,1972.7 508.3,1988.4 512.3,2004.2"/>
<polyline points="819.5,1771.8 833.3,1783.6 845.1,1795.4 860.9,1811.2 884.5,1823.0 904.2,1826.9 920.0,1821.0 935.7,1830.9 951.5,1842.7 959.3,1850.6 971.2,1854.5 990.9,1862.4 1014.5,1862.4"/></g>
<g><polyline points="551.7,1900.0 533.9,1911.8 522.1,1911.8 526.0,1931.5 530.0,1951.2 518.2,1963.0 510.3,1982.7 518.2,1998.5 502.4,2006.4 490.6,2018.2 482.7,2033.9 480.7,2045.7"/></g>
<g></g>
<g><polyline points="1194.5,1700.0 1202.4,1715.8 1184.7,1735.5 1194.5,1751.2 1188.6,1770.9 1202.4,1786.7 1216.2,1790.6 1210.3,1806.4"/>
<polyline points="1470.3,1723.6 1490.0,1729.5 1505.7,1723.6 1525.4,1729.5 1537.2,1715.8 1549.0,1707.9 1551.0,1700.0"/>
<polyline points="1553.0,1747.3 1572.7,1745.3 1596.3,1749.2 1620.0,1751.2 1643.6,1749.2 1667.2,1755.1 1690.9,1759.1 1698.7,1770.9 1690.9,1786.7 1698.7,1802.4 1710.5,1810.3 1702.7,1826.0 1690.9,1841.8 1675.1,1857.6 1671.2,1873.3 1667.2,1885.1"/>
<polyline points="1553.0,1747.3 1556.9,1767.0 1568.7,1782.7 1580.6,1798.5 1596.3,1814.2 1612.1,1830.0 1627.8,1845.7 1639.6,1861.5 1651.5,1873.3"/>
<polyline points="1712.5,1908.8 1722.4,1889.1 1738.1,1885.1 1753.9,1897.0 1765.7,1920.6 1769.6,1944.2 1765.7,1967.9 1777.5,1983.6 1789.3,1995.4 1781.5,2015.1 1769.6,2030.9 1753.9,2038.8 1746.0,2050.6"/></g>
<g></g>
<g><polyline points="2541.9,2100.0 2543.9,2111.8 2532.1,2119.7 2534.1,2135.5 2518.3,2137.4"/>
<polyline points="2541.9,2206.4 2559.7,2202.4 2563.6,2214.2 2575.4,2222.1 2577.4,2230.0 2567.5,2245.7 2559.7,2257.6 2559.7,2273.3 2543.9,2289.1 2524.2,2304.8"/>
<polyline points="2543.9,2289.1 2547.8,2308.8 2559.7,2332.4 2563.6,2356.0 2563.6,2371.8"/>
<polyline points="2559.7,2332.4 2536.0,2336.3 2532.1,2356.0 2540.0,2375.7 2551.8,2375.7 2540.0,2391.5 2540.0,2403.3 2559.7,2399.4"/>
<polyline points="2559.7,2316.6 2583.3,2316.6 2603.0,2324.5 2622.7,2324.5 2697.5,2235.9 2780.2,2139.4 2780.2,2119.7 2772.4,2100.0"/>
<polyline points="2697.5,2235.9 2740.9,2289.1 2872.8,2298.9"/>
<polyline points="2740.9,2289.1 2733.0,2304.8 2642.4,2365.9 2709.3,2405.3 2695.6,2415.1 2693.6,2442.7 2658.1,2462.4 2642.4,2495.9"/>
<polyline points="2506.5,2417.1 2563.6,2495.9"/>
<polyline points="2569.5,2411.2 2573.4,2454.5 2571.5,2495.9"/></g>
<g></g>
<g><polyline points="1220.1,2212.3 1210.3,2222.1 1202.4,2233.9 1204.4,2257.6 1198.5,2285.1 1200.4,2304.8 1192.6,2324.5 1186.7,2340.3 1167.0,2352.1 1151.2,2371.8 1151.2,2395.4 1159.1,2415.1 1174.8,2430.9 1184.7,2454.5 1202.4,2474.2 1218.2,2493.9"/>
<polyline points="1346.2,2438.8 1344.2,2462.4 1348.2,2478.1 1312.7,2493.9"/></g>
<g><polyline points="2872.5,1035.3 2835.7,1029.5 2804.7,1041.1 2793.0,1037.2 2773.6,1060.5 2746.5,1064.3 2738.8,1095.3 2723.3,1118.6 2715.5,1149.6 2707.8,1155.4 2719.4,1169.0 2727.1,1184.5 2700.0,1200.0"/>
<polyline points="2672.9,1200.0 2676.7,1184.5 2700.0,1188.4"/></g>
<g><polyline points="2200.0,1270.2 2203.9,1293.4 2223.3,1301.2 2246.5,1305.0 2258.1,1328.3 2273.6,1339.9 2293.0,1336.0 2312.4,1328.3 2331.8,1318.6 2347.3,1332.2 2362.8,1338.0 2378.3,1330.2 2401.6,1332.2 2420.9,1330.2 2440.3,1336.0 2448.1,1351.6 2440.3,1370.9 2448.1,1382.6 2451.9,1398.1 2461.6,1413.6 2459.7,1429.1 2440.3,1440.7 2428.7,1452.3 2419.0,1467.8 2417.1,1483.3"/>
<polyline points="2703.9,1153.9 2719.4,1169.4 2731.0,1181.0 2719.4,1196.5 2703.9,1192.6 2684.5,1181.0 2672.9,1192.6 2670.9,1219.8 2680.6,1243.0 2690.3,1266.3 2688.4,1301.2 2707.8,1305.0 2723.3,1316.7 2736.8,1324.4 2738.8,1316.7 2758.1,1312.8 2777.5,1320.5 2796.9,1332.2 2816.3,1343.8 2816.3,1355.4 2804.7,1361.2 2835.7,1363.2"/></g>
<g></g>
<g></g>
<g></g>
<g></g>
</g>
<g fill="none" stroke="#000" stroke-linejoin="round" stroke-linecap="round" filter="url(#rough)">
<g clip-path="url(#cA)"><polygon fill="#000" stroke-width="3" points="923.1,666.4 933.6,662.2 942.0,672.7 940.4,685.8 931.5,692.6 924.7,680.6"/></g>
<g clip-path="url(#cB)"></g>
<g clip-path="url(#cC)"><polyline stroke-width="8" points="2665.4,562.4 2678.5,578.2 2689.1,599.2 2694.3,620.2 2696.9,635.9 2720.6,641.2 2746.8,662.2"/>
<polyline stroke-width="8" points="2678.5,641.2 2696.9,620.2 2710.1,625.4 2736.3,635.9"/>
<polyline stroke-width="7" points="2694.3,680.6 2715.3,691.1 2725.8,701.6"/></g>
<g clip-path="url(#cD)"></g>
<g clip-path="url(#cE)"></g>
<g clip-path="url(#cF)"></g>
<g clip-path="url(#cG)"></g>
<g clip-path="url(#cH)"></g>
<g clip-path="url(#cI)"></g>
<g><polyline stroke-width="7" points="2127.6,1409.8 2147.3,1417.7 2170.9,1421.7 2178.8,1415.8 2190.6,1433.5 2202.4,1439.4 2222.1,1437.4 2237.9,1437.4 2257.6,1445.3 2273.3,1451.2 2283.2,1443.3 2285.1,1459.1 2287.1,1474.8 2293.0,1490.6 2304.8,1504.4 2293.0,1512.3 2277.3,1504.4 2265.4,1510.3 2253.6,1516.2 2251.7,1530.0 2247.7,1545.7 2237.9,1557.6 2226.0,1569.4 2216.2,1577.3"/>
<polyline stroke-width="7.2" points="2096.1,1715.1 2100.0,1711.2 2111.8,1699.4 2119.7,1683.6 2115.8,1667.9 2109.8,1652.1 2119.7,1640.3 2127.6,1624.5 2135.5,1614.7 2143.3,1600.9 2155.1,1593.0 2170.9,1585.1 2165.0,1581.2 2178.8,1583.2 2186.7,1573.3 2188.6,1585.1 2202.4,1589.1 2194.5,1597.0 2186.7,1602.9 2198.5,1606.8 2214.2,1604.8 2230.0,1604.8 2245.7,1600.9 2257.6,1597.0 2265.4,1604.8 2261.5,1614.7 2249.7,1624.5 2237.9,1632.4 2230.0,1644.2 2237.9,1650.1 2253.6,1652.1 2269.4,1656.0 2275.3,1667.9 2273.3,1679.7 2281.2,1689.5 2293.0,1693.5 2304.8,1687.5 2314.7,1675.7 2324.5,1663.9 2336.3,1656.0 2352.1,1646.2 2367.9,1636.3 2379.7,1628.5 2391.5,1620.6 2393.5,1614.7"/>
<polyline stroke-width="7.2" points="2393.5,1614.7 2375.7,1620.6 2356.0,1626.5 2336.3,1624.5 2320.6,1612.7 2308.8,1602.9 2300.9,1593.0 2304.8,1581.2 2314.7,1573.3 2316.6,1559.5 2328.5,1553.6 2340.3,1545.7 2356.0,1533.9 2371.8,1522.1 2383.6,1510.3 2395.4,1498.5 2411.2,1490.6 2423.0,1484.7 2438.8,1476.8 2454.5,1470.9 2470.3,1465.0 2490.0,1459.1"/>
<polyline stroke-width="7.2" points="2442.7,1484.7 2430.9,1498.5 2419.1,1510.3 2411.2,1522.1 2423.0,1532.0 2438.8,1537.9 2450.6,1543.8 2434.8,1547.7 2430.9,1561.5 2426.9,1577.3 2423.0,1589.1 2411.2,1598.9 2399.4,1604.8 2393.5,1614.7"/>
<polyline stroke-width="9" points="2300.9,1585.1 2312.7,1597.0 2328.5,1612.7"/>
<polyline stroke-width="7.2" points="2395.4,1616.6 2415.1,1618.6 2430.9,1626.5 2442.7,1628.5 2458.5,1634.4 2474.2,1636.3 2493.9,1640.3 2509.7,1646.2 2525.4,1654.1 2541.2,1661.9 2556.9,1669.8 2572.7,1675.7 2592.4,1677.7 2612.1,1681.6 2627.8,1687.5 2639.6,1697.4 2647.5,1707.2 2655.4,1719.1 2659.3,1734.8 2659.3,1750.6 2653.4,1762.4 2645.6,1772.2 2635.7,1782.1 2623.9,1793.9 2608.1,1801.8 2592.4,1805.7 2576.6,1809.7 2560.9,1817.5 2545.1,1823.4 2529.4,1827.4 2509.7,1827.4 2505.7,1831.3 2490.0,1831.3 2474.2,1827.4 2458.5,1827.4 2446.6,1833.3 2434.8,1827.4 2426.9,1817.5 2415.1,1817.5 2403.3,1823.4 2391.5,1819.5 2383.6,1809.7 2375.7,1807.7 2371.8,1815.6 2356.0,1819.5 2336.3,1823.4 2316.6,1827.4 2300.9,1833.3 2285.1,1843.1 2273.3,1853.0 2261.5,1864.8 2249.7,1876.6 2239.8,1888.4 2232.0,1904.2"/>
<polyline stroke-width="8" points="2513.6,1457.1 2529.4,1459.1 2545.1,1465.0 2556.9,1470.9 2572.7,1468.9 2588.4,1467.0 2608.1,1470.9 2627.8,1474.8"/>
<polyline stroke-width="7" points="2553.0,1398.0 2556.9,1411.8 2568.7,1405.9 2572.7,1398.0"/>
<polyline stroke-width="7.2" points="2828.7,1398.0 2809.0,1411.8 2793.3,1427.6 2797.2,1443.3 2801.1,1463.0 2797.2,1478.8 2793.3,1494.5 2805.1,1504.4 2820.8,1510.3 2832.7,1522.1 2840.5,1537.9 2852.4,1551.7"/>
<polyline stroke-width="7.2" points="2753.9,1904.2 2765.7,1880.6 2777.5,1868.7 2793.3,1856.9 2801.1,1853.0 2793.3,1868.7 2785.4,1878.6 2793.3,1888.4 2785.4,1900.3"/>
<polyline stroke-width="7.2" points="2816.9,1740.7 2832.7,1738.8 2850.0,1746.6 2844.5,1754.5 2828.7,1752.5 2816.9,1740.7"/></g>
<g><polyline stroke-width="7.2" points="1146.1,1317.4 1150.0,1313.5 1157.9,1299.7 1165.8,1283.9 1169.7,1276.0 1179.5,1287.9 1177.6,1307.6 1189.4,1299.7 1201.2,1297.7 1193.3,1283.9 1189.4,1272.1 1197.3,1262.3 1209.1,1254.4 1224.8,1254.4 1240.6,1250.4 1252.4,1256.4 1260.3,1266.2 1256.4,1252.4 1268.2,1244.5 1283.9,1242.6 1287.9,1252.4 1297.7,1260.3 1301.7,1248.5 1307.6,1238.6 1315.4,1232.7 1327.3,1242.6 1335.1,1252.4 1345.0,1256.4"/>
<polyline stroke-width="7.2" points="1315.4,1232.7 1319.4,1220.9 1313.5,1209.1 1311.5,1197.3 1305.6,1185.5 1303.6,1173.6 1307.6,1161.8 1311.5,1150.0"/>
<polyline stroke-width="7.2" points="1343.0,1169.7 1354.8,1181.5 1356.8,1197.3 1358.8,1209.1 1374.5,1215.0 1386.3,1222.9 1382.4,1232.7 1398.2,1238.6 1410.0,1230.7 1421.8,1226.8 1433.6,1222.9 1445.4,1217.0 1457.2,1215.0 1465.1,1205.1 1471.0,1197.3 1476.9,1209.1 1473.0,1220.9 1484.8,1232.7 1492.7,1244.5 1496.6,1250.4 1504.5,1254.4 1508.5,1244.5 1520.3,1236.7 1536.0,1228.8 1551.8,1222.9 1563.6,1215.0 1573.4,1201.2 1587.2,1193.3 1606.9,1189.4 1626.6,1189.4 1642.4,1195.3 1646.3,1207.1 1658.1,1215.0 1670.0,1217.0 1677.8,1205.1 1685.7,1197.3 1693.6,1189.4 1701.5,1181.5 1713.3,1173.6 1721.2,1161.8 1727.1,1150.0"/>
<polyline stroke-width="10" points="1465.1,1201.2 1476.9,1213.0 1484.8,1226.8"/>
<polyline stroke-width="9" points="1461.2,1213.0 1469.1,1224.8"/>
<polyline stroke-width="9" points="1289.8,1585.3 1305.6,1595.1 1319.4,1605.0"/>
<polyline stroke-width="9" points="1187.4,1642.4 1209.1,1636.5"/>
<polyline stroke-width="9" points="1626.6,1649.9 1648.3,1638.4"/>
<polyline stroke-width="8" points="1150.0,1345.0 1161.8,1343.0"/>
<polyline stroke-width="9" points="1165.8,1280.0 1173.6,1295.7"/>
<polyline stroke-width="9" points="1185.5,1285.9 1199.2,1295.7"/></g>
<g><polyline stroke-width="7.2" points="2099.8,1711.0 2095.6,1717.3 2087.7,1735.7 2085.1,1767.2 2079.8,1793.5 2069.3,1814.5 2066.7,1840.8 2054.6,1848.6"/>
<polygon fill="#000" stroke-width="3" points="2071.9,1336.6 2082.4,1335.5 2086.1,1373.3 2075.6,1375.9"/>
<polygon fill="#000" stroke-width="3" points="2066.7,1664.8 2075.6,1663.2 2078.8,1688.4 2069.3,1691.1"/></g>
<g><polyline stroke-width="7.2" points="1697.7,692.1 1695.7,700.0 1687.9,723.6 1685.9,747.3 1695.7,770.9 1701.7,794.5 1697.7,818.2 1703.6,837.9 1715.4,853.6 1735.1,857.6 1739.1,873.3 1754.8,885.1 1770.6,873.3 1786.3,869.4 1802.1,865.4 1817.9,857.6 1833.6,845.7 1849.4,839.8 1865.1,833.9 1884.8,830.0 1896.6,822.1 1908.5,814.2 1916.3,826.0 1928.1,837.9 1943.9,839.8 1959.7,847.7 1965.6,849.7 1959.7,849.7 1940.0,851.7 1928.1,857.6 1916.3,865.4 1904.5,873.3 1900.6,889.1 1916.3,893.0 1904.5,895.0 1884.8,893.0 1865.1,891.0 1845.4,889.1 1825.7,893.0 1810.0,897.0 1794.2,908.8 1782.4,920.6 1774.5,932.4 1776.5,948.2 1786.3,960.0 1794.2,971.8 1810.0,967.9 1811.9,983.6 1813.9,1003.3 1817.9,1023.0 1811.9,1038.8 1802.1,1048.6 1790.3,1046.6 1778.5,1034.8 1768.6,1023.0 1758.8,1013.2 1747.0,1011.2 1735.1,1015.1 1727.3,1026.9 1721.3,1046.6 1715.4,1066.3 1713.5,1086.0 1715.4,1109.7 1719.4,1133.3 1723.3,1153.0 1719.4,1168.7 1707.6,1176.6 1691.8,1178.6 1685.9,1196.3"/>
<polyline stroke-width="7.2" points="1601.2,1192.4 1628.8,1188.4 1660.3,1182.5 1687.9,1178.6"/>
<polyline stroke-width="8" points="1735.1,861.5 1747.0,873.3 1762.7,877.3"/>
<polyline stroke-width="7.2" points="1727.3,971.8 1739.1,963.9 1754.8,956.0 1770.6,952.1 1776.5,960.0 1762.7,971.8 1747.0,979.7 1735.1,987.5 1727.3,979.7 1727.3,971.8"/>
<polyline stroke-width="7.2" points="1743.0,932.4 1758.8,936.3 1754.8,948.2 1743.0,946.2 1743.0,932.4"/>
<polyline stroke-width="7" points="1729.2,952.1 1739.1,946.2 1735.1,956.0"/>
<polyline stroke-width="7.2" points="1618.9,1042.7 1628.8,1015.1 1642.6,1009.2 1644.5,1026.9 1638.6,1046.6 1628.8,1062.4 1620.9,1054.5 1618.9,1042.7"/>
<polyline stroke-width="7.2" points="1882.8,920.6 1896.6,916.6 1900.6,932.4 1904.5,952.1 1916.3,963.9 1922.2,975.7 1912.4,979.7 1902.5,967.9 1892.7,952.1 1884.8,936.3 1882.8,920.6"/>
<polyline stroke-width="7.2" points="1943.9,774.8 1959.7,743.3 1983.3,751.2 2006.9,767.0 2022.7,782.7 2028.6,798.5 2018.7,818.2 1999.0,822.1 1995.1,839.8 1983.3,837.9 1975.4,818.2 1963.6,798.5 1951.8,782.7 1943.9,774.8"/>
<polyline stroke-width="7.2" points="2058.1,696.1 2066.0,715.8 2077.8,727.6 2089.6,719.7 2101.5,711.8 2109.3,723.6 2117.2,735.5 2109.3,747.3 2093.6,751.2 2077.8,753.2 2073.9,743.3 2062.1,723.6 2054.2,707.9"/>
<polyline stroke-width="8" points="2073.9,707.9 2081.8,723.6"/>
<polyline stroke-width="7.2" points="2154.6,776.8 2168.4,770.9 2180.2,776.8 2178.3,786.7 2164.5,789.8 2154.6,784.7 2154.6,776.8"/>
<polyline stroke-width="8" points="2178.3,735.5 2190.1,743.3 2199.9,753.2"/>
<polyline stroke-width="8" points="2213.7,786.7 2227.5,792.6 2239.3,794.5"/>
<polyline stroke-width="7.2" points="2180.2,837.9 2196.0,830.0 2203.9,837.9 2219.6,849.7 2235.4,857.6 2239.3,873.3 2231.5,885.1 2215.7,879.2 2199.9,873.3 2188.1,861.5 2176.3,857.6 2180.2,837.9"/>
<polyline stroke-width="8" points="2196.0,826.0 2205.8,837.9"/>
<polyline stroke-width="7.2" points="2001.0,932.4 2012.8,924.5 2026.6,930.4 2028.6,940.3 2014.8,944.2 2003.0,942.2 2001.0,932.4"/>
<polyline stroke-width="12" points="1762.7,751.2 1774.5,749.2 1786.3,755.1 1782.4,767.0 1770.6,770.9 1762.7,782.7 1770.6,794.5 1786.3,798.5 1798.2,794.5"/>
<polyline stroke-width="12" points="1806.0,723.6 1821.8,715.8 1837.5,723.6 1849.4,735.5 1841.5,747.3 1825.7,751.2 1813.9,743.3 1806.0,755.1 1817.9,767.0 1833.6,770.9 1849.4,767.0 1865.1,759.1"/>
<polyline stroke-width="12" points="1825.7,700.0 1833.6,711.8 1849.4,707.9 1865.1,715.8 1880.9,707.9 1896.6,715.8 1912.4,711.8 1924.2,719.7"/>
<polyline stroke-width="12" points="1873.0,727.6 1888.8,735.5 1904.5,731.5 1920.3,739.4 1928.1,755.1 1916.3,767.0 1900.6,759.1 1884.8,767.0 1873.0,778.8 1888.8,786.7 1904.5,782.7"/>
<polyline stroke-width="12" points="1786.3,778.8 1802.1,782.7 1817.9,790.6 1833.6,798.5 1825.7,810.3 1810.0,806.4"/>
<polyline stroke-width="12" points="1849.4,778.8 1865.1,782.7 1857.2,798.5 1873.0,802.4 1888.8,798.5"/>
<polyline stroke-width="10" points="1762.7,723.6 1778.5,719.7 1790.3,731.5 1778.5,739.4"/>
<polyline stroke-width="10" points="1912.4,700.0 1924.2,707.9 1934.1,723.6 1932.1,739.4"/>
<polyline stroke-width="10" points="1810.0,700.0 1802.1,711.8 1794.2,719.7"/>
<polyline stroke-width="10" points="2010.9,711.8 2022.7,707.9 2022.7,719.7"/>
<polyline stroke-width="11" points="1770.6,707.9 1786.3,703.9 1802.1,715.8 1794.2,731.5 1810.0,739.4"/>
<polyline stroke-width="11" points="1825.7,731.5 1841.5,739.4 1857.2,731.5 1865.1,743.3 1857.2,755.1"/>
<polyline stroke-width="11" points="1876.9,743.3 1892.7,751.2 1908.5,747.3"/>
<polyline stroke-width="11" points="1802.1,755.1 1813.9,759.1 1825.7,767.0 1837.5,759.1"/>
<polyline stroke-width="11" points="1845.4,786.7 1861.2,790.6 1876.9,788.6"/>
<polyline stroke-width="10" points="1896.6,774.8 1912.4,770.9 1924.2,778.8"/>
<polyline stroke-width="10" points="1770.6,739.4 1786.3,743.3"/>
<polyline stroke-width="10" points="1873.0,711.8 1884.8,723.6 1900.6,723.6 1916.3,727.6"/>
<polyline stroke-width="10" points="1786.3,802.4 1802.1,810.3"/>
<polyline stroke-width="9" points="1928.1,767.0 1940.0,778.8 1938.0,794.5"/>
<polygon fill="#000" stroke-width="3" points="1656.4,861.5 1668.2,857.6 1676.8,869.4 1674.1,883.2 1662.3,885.1 1654.4,873.3"/>
<polygon fill="#000" stroke-width="3" points="2070.0,975.7 2081.8,973.8 2086.5,983.6 2077.8,989.5 2069.2,984.4"/>
<polygon fill="#000" stroke-width="3" points="1850.2,958.0 1859.2,956.0 1862.0,973.8 1854.1,977.7"/>
<polygon fill="#000" stroke-width="3" points="2010.9,707.9 2022.7,705.9 2026.6,717.7 2016.8,721.7"/>
<polygon fill="#000" stroke-width="3" points="2172.4,700.0 2180.2,700.0 2182.2,715.8 2174.3,717.7"/>
<polygon fill="#000" stroke-width="3" points="2196.0,733.5 2203.9,735.5 2204.7,753.2 2196.0,755.1"/></g>
<g><polyline stroke-width="7.2" points="1746.1,2066.6 1750.0,2070.6 1761.8,2080.4 1777.6,2088.3 1801.2,2092.2 1795.3,2108.0 1803.2,2121.8 1822.9,2133.6 1844.5,2123.8 1868.2,2119.8 1887.9,2121.8 1903.6,2131.6 1883.9,2133.6 1860.3,2129.7 1840.6,2131.6 1824.8,2141.5 1813.0,2155.3 1818.9,2165.1 1828.8,2176.9 1834.7,2192.7 1832.7,2202.5 1838.6,2212.4 1846.5,2220.3 1852.4,2206.5 1860.3,2200.6 1868.2,2204.5 1874.1,2216.3 1880.0,2234.1 1887.9,2238.0 1889.8,2224.2 1888.7,2214.4 1897.7,2212.4 1905.6,2224.2 1910.7,2228.1 1907.6,2214.4 1901.7,2202.5 1896.5,2188.8 1889.8,2173.0 1883.9,2165.1 1897.7,2165.1 1909.5,2168.3 1917.4,2161.2 1907.6,2153.3 1901.7,2143.5 1903.6,2131.6 1915.4,2137.5 1927.3,2145.4 1939.1,2151.3 1947.0,2153.3 1943.0,2141.5 1935.1,2129.7 1925.3,2117.9 1915.4,2110.0 1903.6,2104.1 1887.9,2096.2 1872.1,2094.2 1887.9,2086.3 1883.9,2074.5 1878.0,2062.7 1876.0,2050.9 1872.1,2039.1 1866.2,2027.3 1862.3,2015.4 1860.3,2005.6 1864.2,1995.7 1874.1,1991.8 1868.2,2007.6 1876.0,2019.4 1887.9,2023.3 1899.7,2017.4 1907.6,2023.3 1919.4,2019.4 1911.5,2007.6 1923.3,2005.6 1935.1,2011.5 1927.3,1999.7 1915.4,1991.8 1907.6,1980.0 1915.4,1976.0 1931.2,1968.2 1947.0,1962.3 1962.7,1958.3 1978.5,1960.3 1994.2,1962.3 2010.0,1964.2 2017.9,1970.1 2029.7,1976.0 2041.5,1972.1 2049.4,1968.2 2065.1,1956.4 2076.9,1942.6 2096.6,1934.7 2116.3,1928.8 2138.0,1926.8 2140.0,1917.0 2120.3,1913.0 2104.5,1905.1 2092.7,1893.3 2084.8,1881.5 2076.9,1869.7 2061.2,1857.9 2053.3,1846.1"/>
<polyline stroke-width="11" points="1882.0,2082.4 1899.7,2090.3 1919.4,2100.1 1935.1,2108.0 1947.0,2121.8"/>
<polyline stroke-width="9" points="1868.2,2092.2 1883.9,2102.1 1903.6,2113.9 1919.4,2125.7"/>
<polyline stroke-width="7.2" points="2025.7,1991.8 2033.6,1982.0 2049.4,1972.1 2061.2,1972.1 2065.1,1978.0 2084.8,1972.1 2104.5,1968.2 2120.3,1964.2 2134.1,1958.3 2143.9,1950.4 2163.6,1942.6 2181.3,1934.7 2163.6,1934.7 2143.9,1922.9 2143.9,1915.0 2167.5,1915.0 2191.2,1913.0 2214.8,1909.1 2230.6,1901.2 2238.4,1889.4 2254.2,1877.6 2270.0,1865.8 2285.7,1853.9 2293.6,1846.1"/>
<polyline stroke-width="7.2" points="2025.7,1991.8 2021.8,2007.6 2021.8,2023.3 2025.7,2039.1 2041.5,2033.2 2057.2,2029.2 2049.4,2039.1 2037.5,2047.0 2025.7,2050.9 2017.9,2054.8 2025.7,2064.7 2041.5,2064.7 2053.3,2058.8 2061.2,2064.7 2065.1,2074.5 2061.2,2086.3 2069.1,2092.2 2080.9,2090.3 2073.0,2102.1 2061.2,2106.0 2069.1,2113.9 2080.9,2111.9 2088.8,2121.8 2086.8,2133.6 2092.7,2145.4 2104.5,2149.4 2112.4,2157.2 2104.5,2161.2 2098.6,2169.1 2102.5,2176.9 2116.3,2173.0 2132.1,2165.1 2147.8,2161.2 2140.0,2169.1 2124.2,2176.9 2108.5,2180.9 2092.7,2184.8 2086.8,2188.8 2104.5,2186.8 2124.2,2184.8 2143.9,2180.9 2159.7,2176.9 2175.4,2173.0 2187.2,2171.0 2195.1,2180.9 2203.0,2190.7 2214.8,2196.6 2226.6,2196.6 2238.4,2190.7 2250.3,2184.8 2258.1,2176.9 2256.2,2165.1 2258.1,2153.3 2270.0,2145.4 2285.7,2143.5 2301.5,2145.4 2317.2,2149.4 2333.0,2157.2 2344.8,2165.1 2356.6,2169.1 2372.4,2167.1 2388.1,2163.2 2399.9,2157.2 2411.8,2149.4 2423.6,2141.5 2431.5,2129.7 2437.4,2117.9 2443.3,2108.0 2455.1,2102.1 2470.8,2102.1 2482.7,2104.1 2490.5,2096.2 2502.4,2091.1"/>
<polyline stroke-width="9" points="2155.7,1954.4 2173.4,1955.6"/>
<polyline stroke-width="7.2" points="1935.1,2277.4 1943.0,2273.4 1945.0,2279.4 1962.7,2275.4 1970.6,2281.3 1990.3,2279.4 2006.0,2277.4 2025.7,2279.4 2041.5,2277.4 2061.2,2279.4 2069.1,2275.4 2071.0,2285.3 2061.2,2289.2 2045.4,2291.2 2041.5,2297.1 2025.7,2299.0 2010.0,2303.0 1998.2,2308.9 1986.3,2303.0 1970.6,2299.0 1954.8,2297.1 1939.1,2297.1 1935.1,2287.2 1935.1,2277.4"/>
<polyline stroke-width="7.2" points="2358.6,2230.1 2368.4,2222.2 2384.2,2216.3 2384.2,2206.5 2399.9,2202.5 2415.7,2196.6 2427.5,2186.8 2439.3,2176.9 2451.1,2171.0 2459.0,2167.1 2447.2,2180.9 2439.3,2190.7 2435.4,2200.6 2447.2,2214.4 2435.4,2220.3 2423.6,2218.3 2415.7,2228.1 2403.9,2238.0 2396.0,2251.8 2384.2,2243.9 2372.4,2249.8 2362.5,2243.9 2358.6,2230.1"/>
<polyline stroke-width="7.2" points="2151.8,2194.7 2145.9,2204.5 2138.0,2214.4 2130.1,2218.3 2134.1,2230.1 2141.9,2218.3 2149.8,2206.5 2151.8,2194.7"/>
<polyline stroke-width="9" points="2106.5,2238.0 2108.5,2251.8 2106.5,2261.6"/>
<polyline stroke-width="7.2" points="2021.8,2054.8 2033.6,2047.0 2049.4,2048.9 2053.3,2058.8 2041.5,2064.7 2025.7,2062.7 2021.8,2054.8"/>
<polyline stroke-width="10" points="2027.7,2088.3 2031.6,2100.1 2027.7,2110.0"/>
<polyline stroke-width="9" points="2063.2,2131.6 2078.9,2130.5"/>
<polyline stroke-width="9" points="2035.6,2145.4 2051.3,2140.3"/>
<polyline stroke-width="10" points="1972.6,2131.6 1990.3,2143.5 2000.1,2153.3"/>
<polyline stroke-width="8" points="1954.8,2125.7 1970.6,2133.6 1986.3,2145.4"/>
<polyline stroke-width="7.2" points="2000.1,2178.9 2010.0,2175.0 2021.8,2176.9 2021.0,2184.8 2008.0,2186.8 2000.1,2178.9"/>
<polyline stroke-width="7.2" points="1769.7,2125.7 1781.5,2133.6 1787.4,2145.4 1777.6,2145.4 1769.7,2137.5 1769.7,2125.7"/>
<polyline stroke-width="8" points="1785.5,2155.3 1797.3,2165.1 1789.4,2167.1"/>
<polyline stroke-width="9" points="1773.6,2102.1 1781.5,2111.9"/>
<polyline stroke-width="7.2" points="2344.8,1989.8 2354.6,1999.7 2364.5,2007.6 2376.3,2015.4 2364.5,2025.3 2348.7,2017.4 2350.7,2005.6 2344.8,1989.8"/>
<polyline stroke-width="7.2" points="2266.0,2043.0 2277.8,2041.0 2279.8,2050.9 2270.0,2052.9 2266.0,2043.0"/>
<polyline stroke-width="7.2" points="2275.9,2076.5 2285.7,2078.5 2297.5,2090.3 2291.6,2098.2 2281.8,2094.2 2275.9,2076.5"/>
<polyline stroke-width="8" points="2088.8,2133.6 2100.6,2125.7"/>
<polyline stroke-width="8" points="2096.6,2169.1 2084.8,2165.1"/>
<polygon fill="#000" stroke-width="3" points="1976.5,2013.5 1988.3,2011.5 1991.1,2022.5 1978.5,2024.1"/>
<polygon fill="#000" stroke-width="3" points="2002.1,1995.7 2013.1,1995.0 2014.7,2002.8 2004.1,2004.4"/>
<polygon fill="#000" stroke-width="3" points="1954.8,2078.5 1964.7,2080.4 1965.9,2088.3 1956.8,2086.3"/>
<polygon fill="#000" stroke-width="3" points="2248.3,2066.6 2256.2,2065.9 2257.3,2085.6 2249.5,2088.3"/>
<polygon fill="#000" stroke-width="3" points="1771.7,1970.1 1787.4,1976.0 1789.4,1984.7 1777.6,1982.0"/>
<polygon fill="#000" stroke-width="3" points="1897.7,2009.5 1911.5,2011.5 1919.4,2019.4 1907.6,2021.3"/>
<polygon fill="#000" stroke-width="3" points="1947.0,1970.1 1954.8,1972.1 1952.9,1982.0 1945.0,1980.0"/>
<polygon fill="#000" stroke-width="3" points="2037.5,2052.9 2045.4,2051.7 2046.2,2058.8 2039.5,2059.6"/>
<polygon fill="#000" stroke-width="3" points="2159.7,1952.4 2173.4,1951.6 2174.6,1958.3 2161.6,1959.5"/>
<polygon fill="#000" stroke-width="3" points="2084.8,1964.2 2096.6,1963.4 2097.4,1968.2 2085.6,1969.7"/>
<polygon fill="#000" stroke-width="3" points="2057.2,2125.7 2065.1,2124.9 2065.9,2130.5 2058.0,2131.6"/>
<polygon fill="#000" stroke-width="3" points="1980.4,2131.6 1986.3,2133.6 1985.6,2139.5"/></g>
<g><polyline stroke-width="7.2" points="770.3,1496.1 778.1,1500.0 793.9,1502.0 809.7,1507.9 821.5,1517.7 833.3,1523.6 845.1,1531.5 856.9,1543.3 860.9,1551.2 853.0,1563.0 855.0,1578.8 860.9,1594.5 868.7,1604.4 880.6,1612.3 882.5,1626.0 876.6,1637.9 872.7,1645.7 870.7,1657.6 866.8,1677.3 860.9,1700.9 853.0,1724.5 845.1,1744.2 837.2,1760.0 827.4,1769.8 817.5,1771.8 801.8,1771.8 790.0,1763.9 778.1,1758.0 766.3,1760.0 754.5,1752.1 742.7,1746.2 726.9,1742.2 711.2,1740.3 695.4,1732.4 679.7,1724.5 667.9,1718.6 656.0,1712.7 640.3,1710.7 624.5,1706.8 608.8,1702.9 597.0,1693.0 589.1,1683.2 577.3,1679.2 565.4,1683.2 557.6,1689.1 545.7,1693.0 530.0,1691.0 516.2,1693.0 508.3,1700.9 508.3,1716.6 512.3,1728.5 516.2,1744.2 510.3,1752.1 506.4,1767.9 504.4,1783.6 500.4,1799.4 498.5,1815.1 490.6,1834.8 482.7,1850.6 472.9,1862.4 463.0,1878.1 451.2,1890.0 439.4,1897.8 433.5,1909.7 427.6,1921.5 419.7,1933.3 427.6,1945.1 439.4,1949.0 445.3,1960.9 435.5,1972.7 431.5,1988.4 429.5,2004.2"/>
<polyline stroke-width="9" points="872.7,1645.7 884.5,1665.4 890.4,1689.1"/>
<polyline stroke-width="10" points="510.3,1720.6 518.2,1736.3 516.2,1748.2"/>
<polyline stroke-width="9" points="439.4,1925.4 427.6,1937.2 443.3,1956.9"/>
<polyline stroke-width="7.2" points="1152.4,1847.4 1136.6,1842.7 1120.8,1830.9 1105.1,1821.0 1089.3,1819.1 1073.6,1811.2 1061.8,1807.2 1049.9,1813.2 1034.2,1817.1 1018.4,1826.9 1012.5,1842.7 1012.5,1858.5 1020.4,1870.3 1012.5,1882.1 1008.6,1897.8 990.9,1905.7 971.2,1913.6 951.5,1921.5 927.8,1925.4 908.1,1929.4 896.3,1939.2 888.4,1949.0 878.6,1958.9"/></g>
<g><polyline stroke-width="7.2" points="433.5,1986.7 427.6,2002.4 419.7,2018.2 407.9,2032.0 423.6,2035.9 439.4,2041.8 455.1,2047.7 470.9,2047.7 486.7,2045.7 504.4,2049.7 512.3,2061.5 518.2,2077.3 526.0,2089.1 524.1,2104.8 530.0,2120.6 537.9,2132.4 549.7,2138.3 557.6,2130.4 569.4,2122.6 585.1,2120.6 604.8,2114.7 624.5,2116.6 640.3,2120.6 660.0,2124.5 675.7,2130.4 691.5,2136.3 703.3,2132.4 715.1,2138.3 726.9,2132.4 738.8,2116.6 754.5,2104.8 774.2,2102.9 793.9,2102.9 797.8,2093.0 805.7,2077.3 817.5,2065.4 833.3,2055.6 849.0,2047.7 841.2,2033.9 833.3,2018.2 833.3,2002.4 841.2,1986.7 853.0,1970.9 868.7,1957.1 884.5,1945.3 896.3,1935.5 912.1,1927.6 931.8,1923.6 951.5,1919.7 971.2,1911.8 990.9,1903.9 1006.6,1900.0"/>
<polyline stroke-width="7.2" points="467.0,2215.1 486.7,2191.5 502.4,2171.8 518.2,2152.1 528.0,2146.2 541.8,2146.2 553.6,2146.2 551.7,2160.0 555.6,2175.7 565.4,2187.5 577.3,2195.4 597.0,2201.3 612.7,2203.3 624.5,2201.3 636.3,2207.2 648.2,2211.2 658.0,2203.3 660.0,2215.1"/>
<polyline stroke-width="7.2" points="740.7,2215.1 754.5,2211.2 774.2,2207.2 790.0,2205.3 793.9,2211.2 801.8,2215.1 817.5,2199.4 837.2,2191.5 856.9,2187.5 876.6,2183.6 896.3,2185.6 920.0,2189.5 935.7,2191.5 951.5,2183.6 967.2,2185.6 990.9,2183.6 1014.5,2187.5 1034.2,2191.5 1049.9,2199.4 1061.8,2209.2 1077.5,2205.3 1097.2,2203.3 1113.0,2193.5 1124.8,2193.5 1136.6,2201.3 1152.4,2203.3"/>
<polyline stroke-width="7.2" points="951.5,2018.2 967.2,2010.3 986.9,2004.4 998.7,2006.4 1002.7,2018.2 994.8,2030.0 986.9,2041.8 977.1,2037.9 967.2,2028.0 955.4,2026.0 951.5,2018.2"/>
<polyline stroke-width="7.2" points="1022.4,2006.4 1034.2,2004.4 1044.0,2014.2 1040.1,2022.1 1028.3,2016.2 1022.4,2006.4"/>
<polyline stroke-width="7.2" points="896.3,2043.8 908.1,2039.8 914.0,2045.7 904.2,2053.6 896.3,2051.7 896.3,2043.8"/></g>
<g><polyline stroke-width="7.2" points="585.0,353.2 583.0,359.1 588.0,363.0 598.8,364.0 606.7,367.0 614.5,372.9 616.5,382.7 612.6,390.6 613.6,398.5 622.4,396.5 627.3,396.5 618.5,402.4 614.5,410.3 626.4,409.3 614.5,416.2 602.7,416.2 592.9,410.3 588.0,414.2 583.0,420.1 588.9,425.1 598.8,429.0 608.6,433.9 618.5,436.9 625.4,443.8 630.3,447.7 631.3,455.6 634.2,463.5 638.2,470.4 646.1,477.3 653.9,484.2 661.8,489.1 671.7,494.0 679.5,495.0 687.4,490.1 693.3,486.1 701.2,487.1 709.1,490.1 718.9,494.0 726.8,491.1 736.7,487.1 746.5,485.1 756.4,486.1 766.2,485.1 774.1,487.1 782.0,484.2 789.8,479.2 795.8,473.3 797.7,468.4 805.6,467.4 811.5,463.5 815.5,457.6 821.4,453.6 827.3,447.7 831.2,441.8 833.2,433.9 829.2,426.1 825.3,420.1 821.4,414.2 815.5,412.3 811.5,410.3 817.4,404.4 821.4,398.5 817.4,392.6 813.5,386.7 819.4,382.7 833.2,380.8 821.4,378.8 809.5,378.8 803.6,372.9 804.6,365.0 799.7,357.1 791.8,355.2 789.8,361.1 783.9,367.0 780.0,374.8 774.1,370.9 766.2,368.9 758.3,368.9 754.4,363.0 748.5,359.1 742.6,365.0 740.6,374.8 737.6,382.7 735.7,374.8 734.7,363.0 730.8,353.2 724.8,347.3 717.0,345.3 711.1,353.2 709.1,363.0 705.1,355.2 703.2,347.3 699.2,341.4 693.3,340.4 691.4,349.2 687.4,357.1 679.5,363.0 671.7,361.1 665.8,365.0 657.9,372.9 661.8,361.1 665.8,353.2 657.9,347.3 648.0,346.3 642.1,351.2 638.2,359.1 640.1,367.0 632.3,363.0 626.4,358.1 618.5,359.1 608.6,357.1 598.8,355.2 585.0,353.2"/></g>
<g><polyline stroke-width="7.2" points="1092.1,1814.2 1100.0,1818.2 1111.8,1826.0 1123.6,1835.9 1135.5,1843.8 1147.3,1845.7 1159.1,1841.8 1170.9,1835.9 1182.7,1826.0 1194.5,1816.2 1206.4,1812.3 1218.2,1804.4 1230.0,1794.5 1241.8,1788.6 1253.6,1782.7 1265.4,1780.7 1277.3,1784.7 1289.1,1790.6 1300.9,1798.5 1312.7,1806.4 1320.6,1814.2 1326.5,1826.0 1330.4,1841.8 1332.4,1857.6 1330.4,1869.4 1320.6,1877.3 1314.7,1879.2 1328.5,1881.2 1336.3,1873.3 1344.2,1881.2 1352.1,1893.0 1356.0,1902.9 1367.9,1908.8 1379.7,1916.6 1387.5,1926.5 1399.4,1936.3 1411.2,1948.2 1423.0,1960.0 1434.8,1969.8 1450.6,1971.8 1462.4,1973.8 1470.3,1983.6 1478.1,1995.4 1490.0,2005.3 1497.8,2011.2 1509.7,2009.2 1517.5,2019.1 1521.5,2030.9 1533.3,2038.8 1545.1,2042.7 1553.0,2050.6 1556.9,2066.3 1560.9,2082.1 1568.7,2093.9 1572.7,2105.7 1574.7,2117.5 1564.8,2125.4 1560.9,2137.2 1549.0,2145.1 1553.0,2156.9 1556.9,2164.8 1572.7,2162.8 1580.6,2153.0 1588.4,2137.2 1596.3,2125.4 1608.1,2113.6 1616.0,2101.8 1620.0,2090.0 1612.1,2078.1 1604.2,2066.3 1592.4,2062.4 1590.4,2050.6 1596.3,2038.8 1604.2,2026.9 1616.0,2017.1 1627.8,2021.0 1639.6,2026.9 1651.5,2038.8 1659.3,2046.6 1671.2,2052.5 1677.1,2042.7 1679.0,2030.9 1671.2,2019.1 1659.3,2011.2 1647.5,2003.3 1631.8,1995.4 1616.0,1983.6 1600.3,1975.7 1584.5,1967.9 1568.7,1956.0 1560.9,1948.2 1568.7,1938.3 1560.9,1936.3 1549.0,1938.3 1533.3,1936.3 1517.5,1928.5 1501.8,1916.6 1490.0,1900.9 1478.1,1885.1 1470.3,1865.4 1462.4,1845.7 1450.6,1830.0 1438.8,1818.2 1426.9,1806.4 1419.1,1790.6 1413.2,1774.8 1411.2,1759.1 1415.1,1747.3 1407.2,1735.5 1411.2,1723.6 1426.9,1717.7 1442.7,1713.8 1454.5,1713.8 1466.3,1717.7 1470.3,1723.6 1462.4,1731.5 1470.3,1743.3 1478.1,1759.1 1486.0,1751.2 1493.9,1739.4 1505.7,1747.3 1513.6,1763.0 1509.7,1774.8 1517.5,1778.8 1525.4,1790.6 1537.2,1802.4 1549.0,1814.2 1560.9,1830.0 1572.7,1841.8 1588.4,1849.7 1604.2,1861.5 1620.0,1869.4 1635.7,1875.3 1651.5,1883.2 1667.2,1893.0 1683.0,1900.9 1698.7,1908.8 1710.5,1912.7 1714.5,1924.5 1720.4,1936.3 1718.4,1952.1 1716.5,1967.9 1718.4,1983.6 1716.5,1999.4 1722.4,2015.1 1730.2,2026.9 1738.1,2038.8 1746.0,2050.6 1738.1,2058.5 1749.9,2066.3 1761.8,2078.1 1773.6,2086.0 1785.4,2093.9 1797.2,2097.8 1785.4,2109.7 1777.5,2125.4 1785.4,2117.5 1797.2,2125.4 1809.0,2129.4 1824.8,2131.3 1836.6,2125.4 1852.4,2123.4"/>
<polyline stroke-width="10" points="1582.5,1855.6 1600.3,1863.5 1620.0,1873.3"/>
<polyline stroke-width="10" points="1495.9,1743.3 1505.7,1763.0 1517.5,1782.7"/>
<polyline stroke-width="8" points="1529.4,1790.6 1541.2,1804.4 1553.0,1818.2"/>
<polyline stroke-width="8" points="1588.4,1865.4 1608.1,1873.3"/>
<polyline stroke-width="9" points="1730.2,2054.5 1746.0,2062.4 1753.9,2074.2"/>
<polyline stroke-width="7.2" points="1283.2,1861.5 1285.1,1873.3 1289.1,1889.1 1291.0,1904.8 1289.1,1920.6 1283.2,1936.3 1273.3,1952.1 1265.4,1948.2 1257.6,1936.3 1249.7,1924.5 1247.7,1912.7 1245.7,1900.9 1249.7,1889.1 1257.6,1883.2 1269.4,1879.2 1279.2,1875.3 1283.2,1861.5"/>
<polyline stroke-width="7.2" points="1271.3,1961.9 1281.2,1971.8 1287.1,1987.5 1289.1,2007.2 1285.1,2026.9 1283.2,2046.6 1279.2,2066.3 1277.3,2082.1 1269.4,2086.0 1261.5,2082.1 1251.7,2080.1 1247.7,2093.9 1237.9,2097.8 1226.0,2093.9 1220.1,2086.0 1222.1,2070.3 1226.0,2054.5 1228.0,2038.8 1226.0,2023.0 1224.1,2007.2 1220.1,1991.5 1222.1,1979.7 1233.9,1981.6 1245.7,1977.7 1257.6,1969.8 1271.3,1961.9"/>
<polyline stroke-width="7.2" points="1769.6,2127.4 1777.5,2137.2 1785.4,2147.1 1779.5,2149.0 1771.6,2139.2 1769.6,2127.4"/>
<polyline stroke-width="8" points="1785.4,2156.9 1797.2,2168.7"/>
<polyline stroke-width="10" points="1342.2,1717.7 1352.1,1707.9 1356.8,1700.0"/></g>
<g><polyline stroke-width="7.2" points="1826.4,270.9 1850.0,278.8 1873.6,278.8 1889.4,284.7 1905.1,288.6 1909.1,302.4 1915.0,314.2 1913.0,326.0"/>
<polyline stroke-width="7.2" points="1909.1,302.4 1928.8,298.5 1952.4,296.5 1976.0,300.4 1999.7,308.3 2023.3,318.2 2047.0,328.0 2070.6,330.0 2090.3,337.9 2106.0,345.7 2117.9,357.6 2125.7,369.4 2128.9,385.1 2125.7,400.9 2119.8,414.7 2110.0,428.5 2098.2,438.3 2082.4,446.2 2062.7,452.1 2039.1,452.1 2015.4,452.1 1995.7,448.2 1976.0,442.2 1960.3,440.3 1940.6,434.4 1928.8,432.4 1934.7,436.3 1948.5,452.1 1964.2,467.9 1980.0,475.7 1991.8,483.6 2001.7,495.4 2005.6,507.2 1997.7,515.1 2005.6,526.9 2011.5,538.8 2019.4,550.6 2023.3,562.4 2035.1,568.3 2047.0,566.3 2058.8,572.2 2068.6,580.1 2086.3,582.1 2098.2,578.1 2110.0,572.2 2110.0,560.4 2102.1,550.6 2094.2,546.6 2086.3,554.5 2074.5,546.6 2064.7,538.8 2056.8,526.9 2064.7,513.2 2078.5,513.2 2090.3,519.1 2102.1,523.0 2117.9,523.0 2133.6,521.0 2143.5,515.1"/>
<polyline stroke-width="7.2" points="2143.5,515.1 2133.6,499.4 2125.7,483.6 2121.8,467.9 2127.7,452.1 2137.5,436.3 2145.4,424.5 2153.3,408.8 2157.2,395.0 2173.0,393.0 2188.8,393.0 2196.6,397.0 2192.7,404.8 2204.5,397.0 2210.4,404.8 2206.5,385.1 2204.5,365.4 2196.6,349.7 2184.8,341.8 2176.9,330.0 2175.0,314.2 2171.0,298.5 2161.2,282.7 2149.4,274.8 2133.6,270.9 2149.4,267.0 2173.0,261.1 2192.7,259.1 2208.5,267.0 2218.3,278.8 2220.3,284.7 2208.5,292.6 2198.6,304.4 2198.6,318.2 2212.4,330.0 2228.1,339.8 2243.9,335.9 2259.7,322.1 2265.6,306.4 2259.7,286.7 2263.6,270.9 2275.4,259.1 2283.3,243.3 2291.2,227.6 2299.0,211.8 2303.0,200.0"/>
<polyline stroke-width="7.2" points="2143.5,515.1 2161.2,515.1 2180.9,517.1 2196.6,519.1 2198.6,534.8 2202.5,550.6 2216.3,558.5 2224.2,570.3 2240.0,580.1 2259.7,588.0 2279.4,593.9 2295.1,595.9 2310.9,593.9 2322.7,599.8 2326.6,605.7"/>
<polyline stroke-width="7.2" points="2362.1,200.0 2362.1,211.8 2358.1,223.6 2342.4,235.5 2350.3,251.2 2366.0,267.0 2377.8,286.7 2389.6,306.4 2397.5,326.0 2401.5,347.7 2417.2,343.8 2433.0,335.9 2444.8,322.1 2450.7,302.4 2448.7,282.7 2452.7,267.0 2464.5,251.2 2480.2,257.1 2492.1,270.9 2505.8,284.7"/>
<polyline stroke-width="7.2" points="2228.1,211.8 2234.1,219.7 2243.9,219.7 2249.8,211.8"/>
<polyline stroke-width="8" points="1877.6,274.8 1889.4,280.7 1901.2,276.8 1893.3,284.7"/>
<polyline stroke-width="10" points="1926.8,359.5 1928.8,377.3 1932.7,393.0 1934.7,404.8"/>
<polyline stroke-width="10" points="1899.2,404.8 1917.0,402.9 1934.7,406.8"/>
<polyline stroke-width="10" points="1956.4,381.2 1966.2,395.0"/>
<polyline stroke-width="10" points="1976.0,363.5 1978.0,379.2"/>
<polyline stroke-width="9" points="1913.0,435.2 1938.6,436.3"/>
<polyline stroke-width="10" points="1911.1,452.1 1930.7,458.0"/>
<polyline stroke-width="10" points="1918.9,477.7 1928.8,481.6"/>
<polyline stroke-width="7" points="1897.3,493.5 1909.1,491.5 1911.1,501.3 1901.2,503.3 1897.3,493.5"/>
<polyline stroke-width="7" points="1926.8,509.2 1940.6,505.3 1954.4,515.1 1956.4,526.9 1942.6,521.0 1930.7,515.1 1926.8,509.2"/>
<polyline stroke-width="10" points="1911.1,552.5 1928.8,550.6 1944.5,560.4"/>
<polyline stroke-width="10" points="1873.6,558.5 1879.5,576.2"/>
<polyline stroke-width="9" points="1936.7,584.1 1953.2,584.1"/>
<polyline stroke-width="9" points="1850.0,623.4 1865.8,625.4 1885.5,617.5 1899.2,609.7"/>
<polyline stroke-width="10" points="1928.8,625.4 1942.6,631.3"/>
<polyline stroke-width="7" points="2017.4,605.7 2035.1,601.8 2052.9,617.5 2039.1,621.5 2023.3,613.6 2017.4,605.7"/>
<polyline stroke-width="7" points="1999.7,631.3 2015.4,627.4 2023.3,639.2 2007.6,643.1 1999.7,631.3"/>
<polyline stroke-width="7" points="2039.1,649.0 2054.8,647.1 2070.6,660.9 2080.4,680.6 2070.6,692.4 2054.8,684.5 2043.0,668.7 2039.1,649.0"/>
<polyline stroke-width="8" points="2035.1,680.6 2047.0,699.9"/>
<polyline stroke-width="10" points="1887.4,653.0 1905.1,662.8 1920.9,672.7 1934.7,686.5"/>
<polyline stroke-width="10" points="1857.9,668.7 1877.6,684.5 1893.3,698.3"/>
<polyline stroke-width="10" points="1924.8,678.6 1942.6,672.7"/>
<polygon fill="#000" stroke-width="3" points="1950.4,493.5 1958.3,491.5 1961.1,503.3 1954.4,508.0 1948.5,501.3"/>
<polygon fill="#000" stroke-width="3" points="2028.0,518.3 2038.3,519.1 2039.9,528.9 2031.2,531.7 2026.5,525.0"/>
<polygon fill="#000" stroke-width="3" points="2105.2,660.1 2113.9,660.9 2117.1,674.7 2110.0,678.6 2104.1,670.7"/></g>
<g><polyline stroke-width="7.2" points="2146.1,2165.0 2150.0,2167.0 2161.8,2172.9 2173.6,2170.9 2185.5,2176.8 2193.3,2188.6 2205.1,2194.5 2218.9,2196.5 2232.7,2192.6 2248.5,2184.7 2258.3,2176.8 2256.4,2163.0 2258.3,2151.2 2272.1,2147.3 2291.8,2149.2 2311.5,2149.2 2327.3,2155.1 2339.1,2163.0 2350.9,2170.9 2364.7,2172.9 2378.5,2167.0 2394.2,2161.1 2410.0,2151.2 2421.8,2139.4 2433.6,2129.5 2445.4,2119.7 2457.2,2111.8 2469.1,2109.8 2480.9,2111.8 2492.7,2107.9 2496.6,2098.0"/>
<polyline stroke-width="7.2" points="2504.5,2098.0 2502.5,2115.8 2508.5,2127.6 2512.4,2139.4 2510.4,2155.1 2516.3,2167.0 2524.2,2178.8 2530.1,2194.5 2538.0,2208.3 2541.9,2214.2 2534.1,2226.0 2532.1,2241.8 2530.1,2257.6 2528.1,2277.3 2526.2,2297.0 2522.2,2320.6 2520.3,2344.2 2520.3,2367.9 2518.3,2387.5 2512.4,2407.2 2500.6,2423.0 2484.8,2432.8 2469.1,2438.8 2453.3,2444.7 2441.5,2446.6 2429.7,2450.6 2421.8,2446.6 2410.0,2444.7 2398.2,2446.6 2386.3,2434.8 2374.5,2440.7 2358.8,2442.7 2343.0,2440.7 2327.3,2448.6 2311.5,2454.5 2299.7,2466.3 2283.9,2482.1 2272.1,2493.9 2268.2,2497.8"/>
<polyline stroke-width="7.2" points="2386.3,2438.8 2390.3,2450.6 2402.1,2458.5"/>
<polyline stroke-width="7.2" points="2411.9,2446.6 2417.9,2466.3 2421.8,2482.1 2431.6,2495.9"/>
<polygon fill="#000" stroke-width="3" points="2563.6,2371.8 2560.4,2391.5 2567.5,2413.2 2576.2,2405.3 2570.7,2383.6"/></g>
<g><polyline stroke-width="13" points="1859.0,282.7 1851.1,259.1 1835.4,247.3 1815.7,237.4 1788.1,233.5 1764.5,241.4 1740.9,247.3 1721.2,259.1 1697.5,267.0 1677.8,278.8 1662.1,290.6 1646.3,302.4 1622.7,306.4 1606.9,318.2 1591.2,330.0 1575.4,341.8 1563.6,353.6 1547.8,365.4 1528.1,377.3 1516.3,389.1 1504.5,400.9 1492.7,412.7 1486.8,422.6"/>
<polyline stroke-width="12" points="1583.3,385.1 1567.5,404.8 1547.8,420.6 1532.1,436.3 1520.3,452.1 1512.4,471.8 1500.6,491.5 1488.8,511.2 1476.9,530.9 1469.1,550.6 1461.2,570.3 1449.4,590.0 1437.5,605.7 1425.7,617.5 1410.0,629.4 1394.2,645.1 1378.5,660.9 1362.7,672.7 1347.0,684.5 1335.1,692.4"/>
<polyline stroke-width="7.2" points="1626.6,699.9 1630.6,692.4 1642.4,676.6 1654.2,656.9 1673.9,633.3 1685.7,617.5 1681.8,597.8 1677.8,574.2 1689.6,562.4 1701.5,546.6 1721.2,542.7 1740.9,542.7 1756.6,538.8 1772.4,550.6 1782.2,562.4 1784.2,578.1 1768.4,593.9 1764.5,609.7 1760.5,625.4 1748.7,645.1 1740.9,656.9 1721.2,672.7 1709.3,678.6 1693.6,684.5 1677.8,692.4 1662.1,699.9"/>
<polyline stroke-width="9" points="1603.0,400.9 1618.7,406.8 1634.5,418.6 1646.3,428.5 1654.2,436.3"/>
<polyline stroke-width="9" points="1567.5,440.3 1583.3,448.2 1603.0,460.0 1622.7,475.7 1636.5,483.6"/>
<polyline stroke-width="8" points="1587.2,491.5 1603.0,493.5 1618.7,497.4 1628.6,503.3"/>
<polyline stroke-width="10" points="1569.5,519.1 1579.4,530.9 1591.2,542.7 1599.0,554.5 1605.0,562.4"/>
<polyline stroke-width="8" points="1553.7,578.1 1563.6,586.0 1577.4,597.1"/>
<polyline stroke-width="8" points="1490.7,625.4 1504.5,631.3 1520.3,637.2 1530.1,653.0 1538.0,672.7"/>
<polyline stroke-width="8" points="1492.7,556.5 1508.5,552.5"/>
<polyline stroke-width="9" points="1772.4,402.9 1788.1,406.8 1803.9,404.8 1817.7,402.9 1811.8,412.7"/>
<polyline stroke-width="8" points="1815.7,477.7 1827.5,483.6 1819.6,491.5"/>
<polyline stroke-width="8" points="1831.5,511.2 1847.2,505.3 1855.1,495.4 1863.0,493.5"/>
<polyline stroke-width="8" points="1874.8,556.5 1878.7,570.3 1872.8,578.1"/>
<polyline stroke-width="7" points="1819.6,605.7 1827.5,621.5 1851.1,623.4 1870.8,621.5 1890.5,613.6 1898.4,601.8"/>
<polyline stroke-width="7" points="1890.5,479.7 1898.4,499.4"/>
<polyline stroke-width="7" points="1879.1,274.4 1837.7,278.5 1859.1,250.5 1830.2,269.3 1843.9,231.5 1817.6,257.9 1817.2,219.5 1804.3,248.3 1800.6,223.0 1795.3,252.5 1771.6,217.6 1770.6,258.0 1747.9,222.6 1755.0,266.0 1720.6,239.6 1724.7,273.4 1701.0,245.6 1706.0,282.6 1677.2,257.8 1687.6,291.3 1658.9,273.6 1675.0,304.8 1642.9,277.1 1649.9,320.3 1633.4,288.1 1636.3,325.5 1600.2,296.5 1616.7,329.8 1585.1,303.0 1604.5,350.0 1574.1,319.6 1592.8,356.8 1551.8,334.2 1569.2,373.0 1534.7,348.6 1542.0,381.2 1512.0,357.9 1524.3,399.3 1492.5,390.4 1502.5,418.9 1486.8,422.6"/>
<polyline stroke-width="7" points="1574.3,378.9 1586.2,406.8 1559.2,391.9 1571.4,426.4 1537.1,409.3 1550.7,441.1 1525.8,429.3 1542.4,456.8 1503.8,446.6 1533.2,466.9 1496.0,463.9 1521.0,490.2 1485.2,483.8 1508.2,509.2 1481.4,503.7 1496.3,527.1 1461.9,524.5 1492.9,549.1 1454.7,543.9 1477.2,563.9 1453.0,564.0 1469.4,587.5 1440.1,579.9 1455.8,604.5 1424.2,589.6 1438.7,634.8 1411.1,616.0 1418.9,638.7 1388.7,625.3 1409.8,657.0 1376.2,646.0 1388.7,673.6 1363.2,653.2 1367.9,684.1 1343.6,663.8 1357.7,696.5 1335.1,692.4"/>
<polyline stroke-width="6" points="1760.7,237.1 1759.8,253.3 1744.0,253.8 1746.8,265.4 1730.2,269.7 1738.3,286.3 1729.0,290.6"/>
<polyline stroke-width="6" points="1792.8,230.7 1794.7,244.1 1780.2,250.0 1786.0,260.5 1772.4,274.8"/>
<polygon fill="#000" stroke-width="3" points="1819.6,318.2 1803.9,333.9 1788.1,351.7 1796.0,359.5 1811.8,357.6 1819.6,337.9"/></g>
<g><polyline stroke-width="7.2" points="1088.2,2204.4 1100.0,2200.4 1111.8,2192.6 1123.6,2196.5 1135.5,2204.4 1151.2,2202.4 1159.1,2194.5 1170.9,2200.4 1182.7,2208.3 1198.5,2212.3 1218.2,2210.3 1233.9,2202.4 1249.7,2194.5 1269.4,2192.6 1281.2,2196.5 1293.0,2202.4 1297.0,2214.2 1304.8,2226.0 1316.6,2222.1 1328.5,2214.2 1336.3,2210.3 1338.3,2222.1 1328.5,2233.9 1320.6,2245.7 1308.8,2249.7 1304.8,2261.5 1306.8,2273.3 1316.6,2285.1 1328.5,2293.0 1332.4,2304.8 1334.4,2316.6 1328.5,2328.5 1320.6,2340.3 1308.8,2352.1 1293.0,2360.0 1281.2,2367.9 1275.3,2379.7 1279.2,2391.5 1289.1,2399.4 1304.8,2405.3 1314.7,2393.5 1324.5,2395.4 1320.6,2409.2 1308.8,2415.1 1324.5,2415.1 1328.5,2426.9 1340.3,2434.8 1356.0,2442.7 1375.7,2450.6 1395.4,2458.5 1415.1,2458.5 1430.9,2454.5 1446.6,2458.5 1462.4,2462.4 1478.1,2468.3 1493.9,2474.2 1509.7,2480.1 1525.4,2484.1 1537.2,2490.0 1541.2,2497.8"/>
<polyline stroke-width="7.2" points="1777.5,2497.8 1785.4,2486.0 1797.2,2474.2 1813.0,2462.4 1828.7,2454.5 1852.4,2448.6"/>
<polyline stroke-width="7.2" points="1407.2,2159.1 1415.1,2151.2 1426.9,2153.2 1438.8,2149.2 1450.6,2155.1 1466.3,2161.1 1482.1,2161.1 1497.8,2159.1 1513.6,2155.1 1529.4,2149.2 1545.1,2147.3 1551.0,2149.2 1541.2,2165.0 1533.3,2178.8 1529.4,2194.5 1533.3,2206.4 1537.2,2218.2 1529.4,2230.0 1527.4,2237.9 1513.6,2235.9 1497.8,2230.0 1486.0,2220.1 1474.2,2214.2 1458.5,2206.4 1442.7,2198.5 1430.9,2190.6 1419.1,2184.7 1409.2,2180.7 1403.3,2170.9 1407.2,2159.1"/>
<polygon fill="#000" stroke-width="3" points="1488.0,2277.3 1495.9,2275.3 1503.7,2283.2 1499.8,2289.1 1490.0,2287.1"/></g>
<g><polyline stroke-width="9" points="2322.1,889.9 2339.5,886.0 2355.0,880.2 2370.5,878.3 2378.3,866.7 2385.3,851.2"/>
<polyline stroke-width="10" points="2372.5,880.2 2382.2,893.8 2389.9,909.3 2405.4,917.1 2424.8,922.9 2448.1,926.7 2467.4,915.1 2486.8,901.6 2502.3,886.0 2521.7,886.0 2541.1,880.2 2560.5,888.0 2576.0,889.9 2587.6,884.1 2599.2,893.8 2610.9,895.7 2626.4,882.2 2645.7,870.5 2661.2,858.9 2670.9,843.4"/>
<polyline stroke-width="10" points="2607.0,897.7 2603.1,917.1 2607.0,936.4 2599.2,951.9 2607.0,967.4 2622.5,975.2 2638.0,986.8 2649.6,1002.3 2638.0,1012.0"/>
<polyline stroke-width="9" points="2649.6,951.9 2638.0,971.3 2641.9,990.7 2674.8,988.8"/>
<polyline stroke-width="9" points="2645.7,1041.1 2643.8,1060.5 2651.6,1076.0 2641.9,1091.5"/>
<polyline stroke-width="11" points="2622.5,1116.7 2607.0,1126.4 2601.2,1145.7 2599.2,1165.1 2608.9,1180.6 2610.9,1201.9"/>
<polyline stroke-width="9" points="2723.3,700.0 2711.6,719.4 2700.0,738.8 2700.0,752.3"/>
<polyline stroke-width="7" points="2657.4,841.5 2665.1,855.0"/>
<polyline stroke-width="7" points="2669.0,839.5 2661.2,853.1"/></g>
<g><polyline stroke-width="10" points="2599.2,1148.1 2601.2,1165.5 2610.9,1177.1 2612.8,1192.6 2620.5,1208.1 2641.9,1206.2 2620.5,1215.9 2616.7,1235.3 2614.7,1258.5 2618.6,1281.8 2616.7,1305.0 2616.7,1328.3"/>
<polyline stroke-width="8" points="2564.3,1289.5 2576.0,1301.2 2585.7,1303.1 2579.8,1320.5 2577.9,1339.9 2570.2,1355.4 2577.9,1370.9 2572.1,1386.4 2564.3,1398.1 2556.6,1413.6 2550.8,1398.1 2548.8,1390.3"/>
<polyline stroke-width="7" points="2583.7,1320.5 2587.6,1332.2 2581.8,1351.6 2585.7,1367.1 2581.8,1390.3"/>
<polyline stroke-width="7.2" points="2874.4,1307.0 2862.8,1324.4 2855.0,1339.9 2839.5,1351.6 2835.7,1370.9 2826.0,1386.4 2820.2,1401.9 2829.8,1405.8"/>
<polyline stroke-width="9" points="2756.2,1359.3 2773.6,1367.1 2789.1,1378.7 2795.0,1384.5"/>
<polygon fill="#000" stroke-width="3" points="2727.1,1238.4 2742.6,1237.2 2745.7,1245.0 2732.9,1248.8 2726.4,1245.0"/>
<polygon fill="#000" stroke-width="3" points="2791.1,1217.8 2810.5,1216.7 2813.2,1224.4 2796.9,1227.5"/></g>
<g><polyline stroke-width="13" points="1354.8,696.1 1347.0,707.9 1323.3,719.7 1299.7,731.5 1276.0,743.3 1256.4,759.1 1248.5,778.8 1248.5,802.4 1244.5,826.0 1240.6,849.7 1238.6,873.3 1240.6,897.0 1246.5,920.6 1244.5,936.3"/>
<polyline stroke-width="8" points="1268.2,798.5 1291.8,802.4 1319.4,796.5"/>
<polyline stroke-width="8" points="1260.3,849.7 1280.0,853.6 1295.7,847.7"/>
<polyline stroke-width="8" points="1280.0,747.3 1307.6,743.3 1327.3,735.5"/>
<polyline stroke-width="7" points="1256.4,822.1 1280.0,826.0"/>
<polyline stroke-width="7" points="1252.4,877.3 1276.0,873.3"/>
<polyline stroke-width="7" points="1252.4,904.8 1276.0,897.0"/>
<polyline stroke-width="7.2" points="1240.6,944.2 1242.6,960.0 1256.4,975.7 1272.1,987.5 1287.9,993.5 1303.6,991.5 1319.4,983.6 1335.1,971.8 1347.0,960.0 1358.8,948.2 1370.6,936.3 1382.4,928.5 1390.3,916.6 1394.2,897.0 1398.2,920.6 1406.0,936.3 1410.0,952.1 1406.0,952.1 1410.0,975.7 1417.9,995.4 1421.8,1015.1 1429.7,1034.8 1437.5,1054.5 1445.4,1074.2 1453.3,1090.0 1449.4,1109.7 1455.3,1125.4 1461.2,1141.2 1465.1,1156.9 1476.9,1164.8 1492.7,1156.9 1500.6,1141.2 1496.6,1129.4 1504.5,1117.5 1520.3,1111.6 1536.0,1109.7 1551.8,1107.7 1559.7,1093.9 1563.6,1074.2 1565.6,1054.5 1567.5,1034.8 1571.5,1015.1 1575.4,999.4 1577.4,983.6 1567.5,975.7 1559.7,971.8 1575.4,967.9 1591.2,960.0 1603.0,948.2 1606.9,932.4 1618.7,924.5 1634.5,920.6 1640.4,897.0 1634.5,881.2 1622.7,869.4 1610.9,857.6 1599.0,849.7 1587.2,837.9 1583.3,818.2 1581.3,798.5 1583.3,778.8 1585.3,759.1 1589.2,739.4 1595.1,723.6 1610.9,707.9 1622.7,696.1"/>
<polyline stroke-width="9" points="1394.2,897.0 1392.2,912.7 1402.1,932.4"/>
<polyline stroke-width="8" points="1565.6,881.2 1579.4,873.3 1595.1,861.5"/>
<polyline stroke-width="8" points="1559.7,920.6 1575.4,914.7 1591.2,918.6 1606.9,912.7 1622.7,920.6"/>
<polyline stroke-width="8" points="1583.3,932.4 1599.0,936.3 1610.9,944.2"/>
<polyline stroke-width="7.2" points="1445.4,936.3 1461.2,928.5 1476.9,926.5 1492.7,932.4 1494.7,948.2 1488.8,960.0 1476.9,967.9 1465.1,971.8 1453.3,975.7 1441.5,981.6 1449.4,967.9 1453.3,952.1 1445.4,936.3"/>
<polyline stroke-width="7.2" points="1522.2,956.0 1516.3,983.6 1504.5,1011.2 1494.7,1015.1 1502.5,991.5 1512.4,967.9 1522.2,956.0"/>
<polyline stroke-width="9" points="1394.2,824.1 1402.1,837.9 1410.0,853.6 1413.9,865.4"/>
<polyline stroke-width="9" points="1502.5,700.0 1508.5,715.8 1514.4,727.6"/>
<polyline stroke-width="7.2" points="1587.2,1042.7 1577.4,1074.2 1567.5,1101.8 1563.6,1109.7 1573.4,1078.1 1583.3,1050.6 1587.2,1042.7"/>
<polyline stroke-width="7.2" points="1510.4,1168.7 1528.1,1172.7 1524.2,1182.5 1510.4,1178.6 1510.4,1168.7"/>
<polyline stroke-width="7.2" points="1384.4,1019.1 1374.5,1026.9 1362.7,1038.8 1347.0,1050.6 1327.3,1052.5 1315.4,1058.5 1307.6,1074.2 1303.6,1093.9 1299.7,1113.6 1297.7,1133.3 1301.7,1153.0 1307.6,1172.7 1311.5,1192.4 1307.6,1204.2"/>
<polyline stroke-width="7.2" points="1384.4,1019.1 1380.4,1034.8 1374.5,1050.6 1372.6,1066.3 1382.4,1078.1 1390.3,1090.0 1386.3,1101.8 1370.6,1109.7 1368.6,1125.4 1358.8,1133.3 1350.9,1145.1 1347.0,1156.9 1350.9,1172.7 1347.0,1188.4 1354.8,1204.2"/>
<polyline stroke-width="8" points="1315.4,1058.5 1331.2,1064.4 1347.0,1058.5 1362.7,1054.5"/>
<polyline stroke-width="8" points="1319.4,1074.2 1335.1,1078.1 1347.0,1072.2"/>
<polyline stroke-width="7.2" points="1354.8,1145.1 1370.6,1141.2 1382.4,1153.0 1380.4,1172.7 1370.6,1184.5 1358.8,1180.6 1352.9,1164.8 1354.8,1145.1"/>
<polyline stroke-width="7.2" points="1390.3,1133.3 1406.0,1125.4 1421.8,1123.4 1433.6,1117.5 1445.4,1125.4 1449.4,1141.2 1445.4,1156.9 1437.5,1172.7 1425.7,1184.5 1410.0,1188.4 1398.2,1180.6 1402.1,1164.8 1394.2,1153.0 1390.3,1133.3"/>
<polyline stroke-width="8" points="1402.1,1137.2 1413.9,1145.1 1425.7,1137.2"/>
<polyline stroke-width="7.2" points="1370.6,1192.4 1386.3,1194.3 1402.1,1196.3 1417.9,1194.3"/>
<polyline stroke-width="7" points="1229.7,943.3 1247.9,955.1 1243.0,976.3 1262.1,970.4 1259.8,990.5 1274.7,979.7 1277.3,998.9 1285.5,988.8 1305.4,997.4 1310.0,983.2 1326.9,991.1 1324.0,971.0 1338.5,977.3 1335.6,963.6 1351.8,962.1 1347.6,947.4 1364.7,955.5 1360.1,939.2 1375.6,943.6 1373.5,925.4 1395.2,917.8 1387.6,905.6 1394.2,897.0"/>
<polyline stroke-width="7" points="1405.3,954.0 1415.4,964.0 1403.7,978.9 1421.4,984.8 1413.3,998.2 1424.2,1002.8 1418.5,1018.8 1435.0,1023.4 1421.9,1036.3 1441.9,1043.1 1429.5,1054.9 1449.5,1059.9 1445.4,1074.2"/>
<polyline stroke-width="7" points="1564.0,979.7 1572.1,959.9 1598.0,964.6 1592.8,946.3 1609.8,936.7 1615.7,919.4 1642.7,922.3 1630.9,907.2 1640.4,897.0"/>
<polyline stroke-width="7" points="1336.8,683.8 1357.5,726.1 1324.0,694.8 1330.3,737.2 1303.2,706.2 1306.3,749.2 1279.9,721.4 1288.8,762.1 1251.7,732.4 1266.9,763.2 1242.7,762.6 1272.6,780.3 1225.6,791.7 1260.8,802.9 1228.1,808.8 1258.0,830.3 1222.1,834.8 1261.8,851.6 1224.1,859.9 1252.2,871.0 1215.8,888.4 1254.3,892.1 1219.6,916.1 1258.9,922.6 1244.5,936.3"/>
<polygon fill="#000" stroke-width="3" points="1508.5,833.9 1520.3,835.9 1527.4,843.8 1522.2,849.7 1510.4,845.7"/>
<polygon fill="#000" stroke-width="3" points="1477.7,1060.4 1485.6,1059.2 1488.0,1074.2 1480.1,1080.1 1476.2,1070.3"/>
<polygon fill="#000" stroke-width="3" points="1657.3,861.5 1671.9,859.5 1677.0,873.3 1671.9,885.9 1660.1,885.1 1655.0,873.3"/>
<polygon fill="#000" stroke-width="3" points="1390.3,891.0 1400.1,893.0 1398.9,902.9 1391.1,901.7"/></g>
<g><polyline stroke-width="7.2" points="2726.4,208.5 2727.8,211.9 2733.4,222.6 2743.3,231.1 2750.4,242.4 2746.1,250.9 2751.8,262.2 2756.0,274.9 2767.3,279.1 2778.6,281.9 2791.4,284.8 2804.1,280.5 2814.0,281.9 2826.7,276.3 2840.8,279.1 2852.1,284.8 2860.6,290.4 2874.7,286.2 2880.4,284.8"/></g>
<g><polyline stroke-width="11" points="1065.8,801.6 1057.6,812.6 1050.6,825.2 1055.4,834.7 1051.3,845.7"/>
<polyline stroke-width="9" points="985.1,877.2 993.9,885.1 988.2,892.0"/>
<polyline stroke-width="7.2" points="927.7,889.8 940.3,896.1 956.1,900.8 971.9,900.8 986.0,897.7 978.2,913.4 965.6,922.9 952.9,932.4 940.3,938.7 934.0,948.1 927.7,954.4 943.5,951.3 959.2,954.4 978.2,957.6 993.9,960.7 1004.9,967.0 1006.5,976.5 1000.2,989.1 993.9,1001.7 984.5,1011.1 975.0,1017.4 965.6,1023.7 952.9,1026.9 943.5,1030.0 956.1,1033.2 965.6,1039.5 949.8,1042.6 937.2,1042.6 924.6,1037.9 940.3,1049.0 956.1,1052.1 965.6,1061.6 975.0,1074.2 981.3,1089.9 984.5,1105.7 987.6,1124.6 990.8,1140.3 1000.2,1152.9 1009.7,1165.6 1016.0,1178.2 1019.1,1190.8 1016.0,1203.4"/>
<polyline stroke-width="9" points="927.7,889.8 915.1,904.0 905.7,916.6 896.2,926.1 893.1,938.7"/>
<polyline stroke-width="15" points="888.3,886.7 874.2,894.5 861.6,904.0 852.1,916.6"/>
<polyline stroke-width="13" points="842.6,926.1 836.3,938.7 834.8,951.3"/>
<polyline stroke-width="16" points="912.0,910.3 899.4,922.9 893.1,935.5 889.9,951.3 883.6,963.9 877.3,979.6 883.6,992.2 874.2,1004.8 867.9,1020.6 871.0,1033.2 877.3,1045.8 883.6,1058.4 886.8,1067.9"/>
<polyline stroke-width="12" points="861.6,932.4 871.0,941.8 877.3,957.6 871.0,970.2"/>
<polyline stroke-width="12" points="852.1,992.2 864.7,1001.7 877.3,1004.8"/>
<polyline stroke-width="12" points="839.5,1033.2 852.1,1036.3 864.7,1030.0"/>
<polyline stroke-width="11" points="855.3,1049.0 864.7,1061.6"/>
<polyline stroke-width="10" points="896.2,992.2 886.8,1004.8"/>
<polyline stroke-width="10" points="889.9,1026.9 899.4,1039.5"/>
<polyline stroke-width="10" points="877.3,1049.0 874.2,1067.9 871.0,1083.6"/>
<polyline stroke-width="7.2" points="886.8,1067.9 877.3,1077.3 867.9,1086.8 864.7,1096.2 867.9,1108.8 877.3,1102.5 886.8,1099.4 893.1,1107.3 902.5,1110.4 915.1,1105.7 927.7,1107.3 932.5,1110.4"/>
<polyline stroke-width="7.2" points="915.1,1110.4 910.4,1121.4 912.0,1134.0 918.3,1146.6 927.7,1151.4 924.6,1162.4 921.4,1178.2 918.3,1190.8 915.1,1203.4"/>
<polyline stroke-width="7.2" points="863.1,1141.9 874.2,1130.9 882.0,1129.3 878.9,1138.8 867.9,1145.1 863.1,1141.9"/>
<polyline stroke-width="8" points="641.0,1193.9 656.7,1187.6 669.3,1178.2 678.8,1168.7 691.4,1162.4 704.0,1156.1 713.4,1149.8 707.1,1140.3 694.5,1134.0 681.9,1127.7 678.8,1118.3 688.2,1112.0 697.7,1102.5 694.5,1089.9 697.7,1080.5 710.3,1080.5 722.9,1089.9 735.5,1093.1 748.1,1086.8 757.6,1077.3 748.1,1071.0 757.6,1061.6 770.2,1052.1 785.9,1049.0 801.7,1049.0 811.1,1055.3 820.6,1061.6 833.2,1064.7 839.5,1074.2 842.6,1086.8 845.8,1099.4 849.0,1112.0 842.6,1121.4 833.2,1127.7 820.6,1130.9 811.1,1134.0 808.0,1146.6 808.0,1162.4 804.8,1178.2 804.8,1193.9 806.4,1203.4"/>
<polyline stroke-width="9" points="663.0,1190.8 681.9,1178.2 704.0,1181.3"/>
<polyline stroke-width="9" points="675.6,1134.0 694.5,1146.6 710.3,1146.6"/>
<polyline stroke-width="7.2" points="858.4,1184.5 867.9,1190.8 883.6,1193.9 899.4,1195.5 915.1,1197.1"/>
<polyline stroke-width="6" points="902.7,900.9 916.7,926.4 886.8,916.7 908.1,936.9 884.0,940.4 902.2,956.5 872.8,960.6 895.1,978.4 868.3,983.8 895.1,1001.3 865.7,1003.5 881.2,1017.9 856.4,1023.7 881.1,1030.6 863.3,1050.8 897.0,1056.2 886.8,1067.9"/>
<polygon fill="#000" stroke-width="3" points="818.1,1089.9 825.3,1088.3 827.5,1102.5 820.6,1107.3 815.9,1099.4"/></g>
<g><polyline stroke-width="7" points="704.0,1146.8 694.5,1159.5 685.1,1168.9 669.3,1173.6 681.9,1175.2 704.0,1181.5 681.9,1183.1 663.0,1184.7 644.1,1189.4 641.0,1200.4 637.8,1209.9 650.4,1214.6 663.0,1216.2 644.1,1222.5 653.6,1231.9 666.2,1238.2 681.9,1241.4 697.7,1239.8 704.0,1228.8 719.7,1227.2 735.5,1225.6 751.3,1224.1 763.9,1225.6 776.5,1230.4 784.4,1222.5 789.1,1213.0 795.4,1203.6 801.7,1191.0 804.8,1178.4 806.4,1165.8 808.0,1146.8"/>
<polyline stroke-width="7.2" points="927.7,1146.8 921.4,1162.6 918.3,1175.2 915.1,1187.8 918.3,1200.4 902.5,1198.8 883.6,1194.1 871.0,1191.0 864.7,1183.1 860.0,1187.8 861.6,1197.3 856.8,1206.7 845.8,1213.0 861.6,1213.0 867.9,1222.5 866.3,1235.1 858.4,1244.5 845.8,1250.8 833.2,1254.0 820.6,1257.1 811.1,1261.9 814.3,1272.9 826.9,1276.1 839.5,1279.2 849.0,1288.7 858.4,1293.4 864.7,1301.3 874.2,1306.0 886.8,1301.3 899.4,1296.5 910.4,1290.2 899.4,1301.3 886.8,1310.7 877.3,1317.0 867.9,1313.9 852.1,1310.7 839.5,1310.7 826.9,1317.0 820.6,1326.5 808.0,1335.9 795.4,1342.2 782.8,1350.1 770.2,1354.8 776.5,1359.6 784.4,1365.9 792.2,1358.0 804.8,1353.3 820.6,1354.8 833.2,1358.0 839.5,1364.3 849.0,1354.8 858.4,1347.0 874.2,1347.0 886.8,1353.3 896.2,1359.6 908.8,1356.4 921.4,1358.0 930.9,1351.7 937.2,1358.0 934.0,1365.9 946.6,1361.1 962.4,1361.1 975.0,1364.3 987.6,1370.6 1000.2,1367.4 1012.8,1364.3 1025.4,1361.1 1034.9,1354.8 1038.0,1345.4 1034.9,1339.1 1022.3,1337.5 1009.7,1334.4 1000.2,1331.2 1012.8,1329.6 1022.3,1321.7 1034.9,1310.7 1047.5,1301.3 1056.9,1288.7 1061.7,1276.1 1060.1,1263.4 1053.8,1254.0 1041.2,1249.3 1028.6,1247.7 1019.1,1254.0 1008.1,1249.3 1016.0,1238.2 1020.7,1222.5 1019.1,1206.7 1009.7,1200.4 1000.2,1198.8 990.8,1197.3 1006.5,1197.3 1016.0,1187.8 1019.1,1178.4 1012.8,1165.8 1006.5,1156.3 1001.8,1146.8"/>
<polyline stroke-width="7.2" points="861.6,1553.4 852.1,1543.9 842.6,1537.6 833.2,1528.2 823.7,1521.9 817.4,1512.4 808.0,1506.1 798.5,1499.8 785.9,1496.6 779.6,1490.3 771.7,1480.9 776.5,1468.3 773.3,1455.7 785.9,1447.8 801.7,1447.8 817.4,1450.9 830.0,1447.8 842.6,1449.4 849.0,1458.8 852.1,1469.9 861.6,1471.4 874.2,1468.3 883.6,1474.6 896.2,1476.2 904.1,1476.2 902.5,1462.0 904.1,1446.2 900.9,1430.5 897.8,1413.1 908.8,1416.3 919.9,1417.9 921.4,1427.3 921.4,1436.8 934.0,1441.5 946.6,1446.2 959.2,1449.4 971.9,1446.2 981.3,1444.6 968.7,1443.1 971.9,1433.6 984.5,1428.9 1000.2,1425.7 1012.8,1421.0 1025.4,1414.7 1033.3,1405.3 1034.9,1392.6 1038.0,1380.0 1044.3,1372.2 1060.1,1369.0 1079.0,1364.3 1097.9,1358.0 1110.5,1351.7 1120.0,1345.4 1132.6,1335.9 1142.0,1326.5 1151.5,1313.9 1160.9,1298.1 1167.2,1282.4 1170.4,1272.9 1179.8,1276.1 1176.7,1288.7 1183.0,1298.1 1179.8,1310.7 1189.3,1301.3 1192.4,1285.5 1189.3,1269.7 1195.6,1260.3 1201.9,1255.6"/>
<polyline stroke-width="9" points="776.5,1462.0 789.1,1468.3 782.8,1477.7"/>
<polygon fill="#000" stroke-width="3" points="1110.5,1348.5 1120.0,1339.1 1132.6,1332.8 1142.0,1339.1 1160.9,1340.7 1148.3,1348.5 1135.7,1354.8 1120.0,1356.4"/></g>
</g>
<g fill="none" stroke="#000" stroke-width="1" stroke-dasharray="1.5,1.5" opacity="0.85">
<polyline points="-2266.8,1052.9 -2024.7,906.3 -1782.6,759.7 -1535.9,610.2 -1289.1,460.8 -1042.3,311.3 -795.5,161.9 -547.5,11.6 -299.4,-138.6 -55.6,-286.2 188.1,-433.9 423.4,-576.3 658.6,-718.8 885.3,-856.1"/>
<polyline points="-1918.3,1548.3 -1698.5,1370.0 -1478.7,1191.8 -1254.6,1010.1 -1030.5,828.4 -806.5,646.6 -582.4,464.9 -357.1,282.3 -131.9,99.6 89.5,-79.9 310.8,-259.4 524.4,-432.6 738.0,-605.8 943.9,-772.8"/>
<polyline points="-1505.5,1991.6 -1312.1,1785.0 -1118.7,1578.4 -921.5,1367.8 -724.3,1157.3 -527.1,946.7 -329.9,736.1 -131.6,524.4 66.6,312.7 261.4,104.7 456.2,-103.3 644.2,-304.0 832.1,-504.8 1013.3,-698.2"/>
<polyline points="-518.9,2689.6 -388.5,2438.4 -258.1,2187.3 -125.2,1931.2 7.8,1675.2 140.7,1419.2 273.7,1163.1 407.3,905.7 541.0,648.4 672.3,395.4 803.6,142.5 930.3,-101.6 1057.1,-345.6 1179.2,-580.8"/>
<polyline points="36.4,2931.3 131.4,2664.7 226.3,2398.1 323.1,2126.3 419.9,1854.5 516.6,1582.8 613.4,1311.0 710.7,1037.8 808.0,764.6 903.6,496.1 999.2,227.6 1091.4,-31.5 1183.7,-290.5 1272.6,-540.2"/>
<polyline points="619.6,3095.0 677.3,2818.0 735.0,2540.9 793.8,2258.4 852.6,1976.0 911.4,1693.6 970.2,1411.1 1029.3,1127.2 1088.4,843.3 1146.5,564.3 1204.6,285.3 1260.6,16.0 1316.6,-253.2 1370.7,-512.6"/>
<polyline points="1219.6,3177.6 1239.0,2895.3 1258.3,2613.0 1278.1,2325.1 1297.8,2037.3 1317.5,1749.5 1337.2,1461.7 1357.1,1172.3 1376.9,883.0 1396.4,598.7 1415.9,314.4 1434.7,40.0 1453.5,-234.4 1471.6,-498.7"/>
<polyline points="1825.4,3177.6 1806.0,2895.3 1786.7,2613.0 1766.9,2325.1 1747.2,2037.3 1727.5,1749.5 1707.8,1461.7 1687.9,1172.3 1668.1,883.0 1648.6,598.7 1629.1,314.4 1610.3,40.0 1591.5,-234.4 1573.4,-498.7"/>
<polyline points="2425.4,3095.0 2367.7,2818.0 2310.0,2540.9 2251.2,2258.4 2192.4,1976.0 2133.6,1693.6 2074.8,1411.1 2015.7,1127.2 1956.6,843.3 1898.5,564.3 1840.4,285.3 1784.4,16.0 1728.4,-253.2 1674.3,-512.6"/>
<polyline points="3008.6,2931.3 2913.6,2664.7 2818.7,2398.1 2721.9,2126.3 2625.1,1854.5 2528.4,1582.8 2431.6,1311.0 2334.3,1037.8 2237.0,764.6 2141.4,496.1 2045.8,227.6 1953.6,-31.5 1861.3,-290.5 1772.4,-540.2"/>
<polyline points="3563.9,2689.6 3433.5,2438.4 3303.1,2187.3 3170.2,1931.2 3037.2,1675.2 2904.3,1419.2 2771.3,1163.1 2637.7,905.7 2504.0,648.4 2372.7,395.4 2241.4,142.5 2114.7,-101.6 1987.9,-345.6 1865.8,-580.8"/>
<polyline points="4550.5,1991.6 4357.1,1785.0 4163.7,1578.4 3966.5,1367.8 3769.3,1157.3 3572.1,946.7 3374.9,736.1 3176.6,524.4 2978.4,312.7 2783.6,104.7 2588.8,-103.3 2400.8,-304.0 2212.9,-504.8 2031.7,-698.2"/>
<polyline points="4963.3,1548.3 4743.5,1370.0 4523.7,1191.8 4299.6,1010.1 4075.5,828.4 3851.5,646.6 3627.4,464.9 3402.1,282.3 3176.9,99.6 2955.5,-79.9 2734.2,-259.4 2520.6,-432.6 2307.0,-605.8 2101.1,-772.8"/>
<polyline points="5311.8,1052.9 5069.7,906.3 4827.6,759.7 4580.9,610.2 4334.1,460.8 4087.3,311.3 3840.5,161.9 3592.5,11.6 3344.4,-138.6 3100.6,-286.2 2856.9,-433.9 2621.6,-576.3 2386.4,-718.8 2159.7,-856.1"/>
<polyline points="-2544.4,514.5 -2494.8,625.2 -2442.2,734.4 -2386.6,842.1 -2328.1,948.3 -2266.8,1052.9 -2202.5,1155.7 -2135.5,1256.7 -2065.8,1355.9 -1993.4,1453.1 -1918.3,1548.3 -1840.7,1641.4 -1760.5,1732.3 -1677.9,1821.1 -1592.9,1907.5 -1505.5,1991.6 -1415.9,2073.2 -1324.1,2152.4 -1230.2,2229.0 -1134.1,2303.0 -1036.1,2374.4 -936.2,2443.0 -834.5,2508.9 -731.0,2572.0 -625.7,2632.3 -518.9,2689.6 -410.6,2744.0 -300.8,2795.4 -189.6,2843.8 -77.2,2889.1 36.4,2931.3 151.2,2970.4 267.0,3006.4 383.7,3039.1 501.3,3068.7 619.6,3095.0 738.6,3118.1 858.2,3137.9 978.3,3154.4 1098.8,3167.7 1219.6,3177.6 1340.7,3184.3 1461.9,3187.6 1583.1,3187.6 1704.3,3184.3 1825.4,3177.6 1946.2,3167.7 2066.7,3154.4 2186.8,3137.9 2306.4,3118.1 2425.4,3095.0 2543.7,3068.7 2661.3,3039.1 2778.0,3006.4 2893.8,2970.4 3008.6,2931.3 3122.2,2889.1 3234.6,2843.8 3345.8,2795.4 3455.6,2744.0 3563.9,2689.6 3670.7,2632.3 3776.0,2572.0 3879.5,2508.9 3981.2,2443.0 4081.1,2374.4 4179.1,2303.0 4275.2,2229.0 4369.1,2152.4 4460.9,2073.2 4550.5,1991.6 4637.9,1907.5 4722.9,1821.1 4805.5,1732.3 4885.7,1641.4 4963.3,1548.3 5038.4,1453.1 5110.8,1355.9 5180.5,1256.7 5247.5,1155.7 5311.8,1052.9 5373.1,948.3 5431.6,842.1 5487.2,734.4 5539.8,625.2 5589.4,514.5"/>
<polyline points="-2024.8,290.1 -1981.5,386.6 -1935.6,481.9 -1887.2,575.8 -1836.2,668.5 -1782.6,759.7 -1726.6,849.3 -1668.2,937.5 -1607.3,1024.0 -1544.2,1108.8 -1478.7,1191.8 -1411.0,1273.0 -1341.1,1352.3 -1269.0,1429.7 -1194.8,1505.1 -1118.7,1578.4 -1040.5,1649.6 -960.4,1718.7 -878.5,1785.5 -794.7,1850.1 -709.2,1912.3 -622.1,1972.2 -533.3,2029.7 -443.0,2084.7 -351.3,2137.3 -258.1,2187.3 -163.6,2234.7 -67.8,2279.6 29.1,2321.7 127.2,2361.3 226.3,2398.1 326.4,2432.2 427.4,2463.6 529.2,2492.1 631.8,2517.9 735.0,2540.9 838.8,2561.0 943.1,2578.3 1047.8,2592.7 1153.0,2604.3 1258.3,2613.0 1363.9,2618.7 1469.6,2621.6 1575.4,2621.6 1681.1,2618.7 1786.7,2613.0 1892.0,2604.3 1997.2,2592.7 2101.9,2578.3 2206.2,2561.0 2310.0,2540.9 2413.2,2517.9 2515.8,2492.1 2617.6,2463.6 2718.6,2432.2 2818.7,2398.1 2917.8,2361.3 3015.9,2321.7 3112.8,2279.6 3208.6,2234.7 3303.1,2187.3 3396.3,2137.3 3488.0,2084.7 3578.3,2029.7 3667.1,1972.2 3754.2,1912.3 3839.7,1850.1 3923.5,1785.5 4005.4,1718.7 4085.5,1649.6 4163.7,1578.4 4239.8,1505.1 4314.0,1429.7 4386.1,1352.3 4456.0,1273.0 4523.7,1191.8 4589.2,1108.8 4652.3,1024.0 4713.2,937.5 4771.6,849.3 4827.6,759.7 4881.2,668.5 4932.2,575.8 4980.6,481.9 5026.5,386.6 5069.8,290.1"/>
<polyline points="-1495.1,61.3 -1458.3,143.4 -1419.3,224.4 -1378.0,304.4 -1334.6,383.2 -1289.1,460.8 -1241.4,537.1 -1191.7,612.0 -1140.0,685.6 -1086.2,757.7 -1030.5,828.4 -972.9,897.4 -913.4,964.9 -852.1,1030.8 -789.1,1094.9 -724.3,1157.3 -657.8,1217.8 -589.6,1276.6 -519.9,1333.4 -448.7,1388.4 -376.0,1441.3 -301.8,1492.3 -226.3,1541.1 -149.5,1588.0 -71.5,1632.7 7.8,1675.2 88.2,1715.5 169.6,1753.7 252.1,1789.6 335.6,1823.2 419.9,1854.5 505.0,1883.6 590.9,1910.2 677.5,1934.5 764.8,1956.5 852.6,1976.0 940.9,1993.1 1029.6,2007.8 1118.7,2020.1 1208.1,2029.9 1297.8,2037.3 1387.6,2042.2 1477.5,2044.7 1567.5,2044.7 1657.4,2042.2 1747.2,2037.3 1836.9,2029.9 1926.3,2020.1 2015.4,2007.8 2104.1,1993.1 2192.4,1976.0 2280.2,1956.5 2367.5,1934.5 2454.1,1910.2 2540.0,1883.6 2625.1,1854.5 2709.4,1823.2 2792.9,1789.6 2875.4,1753.7 2956.8,1715.5 3037.2,1675.2 3116.5,1632.7 3194.5,1588.0 3271.3,1541.1 3346.8,1492.3 3421.0,1441.3 3493.7,1388.4 3564.9,1333.4 3634.6,1276.6 3702.8,1217.8 3769.3,1157.3 3834.1,1094.9 3897.1,1030.8 3958.4,964.9 4017.9,897.4 4075.5,828.4 4131.2,757.7 4185.0,685.6 4236.7,612.0 4286.4,537.1 4334.1,460.8 4379.6,383.2 4423.0,304.4 4464.3,224.4 4503.3,143.4 4540.1,61.3"/>
<polyline points="-965.4,-167.5 -935.0,-99.8 -902.9,-33.0 -868.9,32.9 -833.1,97.9 -795.5,161.9 -756.3,224.8 -715.3,286.6 -672.6,347.2 -628.3,406.7 -582.4,464.9 -534.9,521.9 -485.8,577.5 -435.3,631.8 -383.3,684.7 -329.9,736.1 -275.0,786.0 -218.9,834.5 -161.4,881.3 -102.7,926.6 -42.7,970.3 18.4,1012.3 80.6,1052.6 144.0,1091.2 208.3,1128.0 273.7,1163.1 340.0,1196.4 407.1,1227.8 475.1,1257.4 543.9,1285.1 613.4,1311.0 683.6,1334.9 754.5,1356.9 825.9,1376.9 897.8,1395.0 970.2,1411.1 1043.0,1425.2 1116.1,1437.4 1189.6,1447.5 1263.3,1455.6 1337.2,1461.7 1411.3,1465.7 1485.4,1467.7 1559.6,1467.7 1633.7,1465.7 1707.8,1461.7 1781.7,1455.6 1855.4,1447.5 1928.9,1437.4 2002.0,1425.2 2074.8,1411.1 2147.2,1395.0 2219.1,1376.9 2290.5,1356.9 2361.4,1334.9 2431.6,1311.0 2501.1,1285.1 2569.9,1257.4 2637.9,1227.8 2705.0,1196.4 2771.3,1163.1 2836.7,1128.0 2901.0,1091.2 2964.4,1052.6 3026.6,1012.3 3087.7,970.3 3147.7,926.6 3206.4,881.3 3263.9,834.5 3320.0,786.0 3374.9,736.1 3428.3,684.7 3480.3,631.8 3530.8,577.5 3579.9,521.9 3627.4,464.9 3673.3,406.7 3717.6,347.2 3760.3,286.6 3801.3,224.8 3840.5,161.9 3878.1,97.9 3913.9,32.9 3947.9,-33.0 3980.0,-99.8 4010.4,-167.5"/>
<polyline points="-432.9,-397.4 -409.1,-344.2 -383.8,-291.7 -357.1,-239.9 -328.9,-188.9 -299.4,-138.6 -268.6,-89.2 -236.3,-40.6 -202.8,7.1 -168.0,53.8 -131.9,99.6 -94.6,144.4 -56.0,188.1 -16.3,230.8 24.6,272.3 66.6,312.7 109.7,352.0 153.8,390.1 199.0,426.9 245.2,462.5 292.3,496.8 340.3,529.8 389.2,561.5 439.0,591.8 489.6,620.8 541.0,648.4 593.0,674.5 645.8,699.2 699.3,722.5 753.3,744.3 808.0,764.6 863.2,783.4 918.8,800.7 975.0,816.4 1031.5,830.6 1088.4,843.3 1145.6,854.4 1203.1,863.9 1260.9,871.9 1318.8,878.2 1376.9,883.0 1435.1,886.2 1493.4,887.8 1551.6,887.8 1609.9,886.2 1668.1,883.0 1726.2,878.2 1784.1,871.9 1841.9,863.9 1899.4,854.4 1956.6,843.3 2013.5,830.6 2070.0,816.4 2126.2,800.7 2181.8,783.4 2237.0,764.6 2291.7,744.3 2345.7,722.5 2399.2,699.2 2452.0,674.5 2504.0,648.4 2555.4,620.8 2606.0,591.8 2655.8,561.5 2704.7,529.8 2752.7,496.8 2799.8,462.5 2846.0,426.9 2891.2,390.1 2935.3,352.0 2978.4,312.7 3020.4,272.3 3061.3,230.8 3101.0,188.1 3139.6,144.4 3176.9,99.6 3213.0,53.8 3247.8,7.1 3281.3,-40.6 3313.6,-89.2 3344.4,-138.6 3373.9,-188.9 3402.1,-239.9 3428.8,-291.7 3454.1,-344.2 3477.9,-397.4"/>
<polyline points="90.4,-623.4 107.8,-584.5 126.4,-546.0 145.9,-508.1 166.5,-470.7 188.1,-433.9 210.7,-397.7 234.3,-362.1 258.9,-327.2 284.4,-292.9 310.8,-259.4 338.2,-226.6 366.4,-194.6 395.5,-163.4 425.4,-132.9 456.2,-103.3 487.8,-74.6 520.1,-46.7 553.2,-19.7 587.0,6.4 621.5,31.5 656.7,55.7 692.5,78.9 729.0,101.1 766.0,122.3 803.6,142.5 841.8,161.6 880.4,179.7 919.6,196.8 959.2,212.7 999.2,227.6 1039.6,241.4 1080.4,254.0 1121.5,265.6 1162.9,276.0 1204.6,285.3 1246.5,293.4 1288.6,300.4 1330.9,306.2 1373.3,310.8 1415.9,314.4 1458.5,316.7 1501.2,317.9 1543.8,317.9 1586.5,316.7 1629.1,314.4 1671.7,310.8 1714.1,306.2 1756.4,300.4 1798.5,293.4 1840.4,285.3 1882.1,276.0 1923.5,265.6 1964.6,254.0 2005.4,241.4 2045.8,227.6 2085.8,212.7 2125.4,196.8 2164.6,179.7 2203.2,161.6 2241.4,142.5 2279.0,122.3 2316.0,101.1 2352.5,78.9 2388.3,55.7 2423.5,31.5 2458.0,6.4 2491.8,-19.7 2524.9,-46.7 2557.2,-74.6 2588.8,-103.3 2619.6,-132.9 2649.5,-163.4 2678.6,-194.6 2706.8,-226.6 2734.2,-259.4 2760.6,-292.9 2786.1,-327.2 2810.7,-362.1 2834.3,-397.7 2856.9,-433.9 2878.5,-470.7 2899.1,-508.1 2918.6,-546.0 2937.2,-584.5 2954.6,-623.4"/>
<polyline points="595.3,-841.5 606.6,-816.3 618.6,-791.4 631.3,-766.8 644.6,-742.6 658.6,-718.8 673.2,-695.3 688.5,-672.3 704.4,-649.7 720.9,-627.5 738.0,-605.8 755.7,-584.6 774.0,-563.9 792.8,-543.6 812.2,-523.9 832.1,-504.8 852.6,-486.2 873.5,-468.1 894.9,-450.6 916.8,-433.8 939.2,-417.5 961.9,-401.8 985.1,-386.8 1008.7,-372.4 1032.7,-358.7 1057.1,-345.6 1081.8,-333.2 1106.8,-321.5 1132.1,-310.5 1157.8,-300.1 1183.7,-290.5 1209.9,-281.6 1236.3,-273.4 1262.9,-265.9 1289.7,-259.2 1316.6,-253.2 1343.8,-247.9 1371.1,-243.4 1398.4,-239.6 1425.9,-236.6 1453.5,-234.4 1481.1,-232.9 1508.7,-232.1 1536.3,-232.1 1563.9,-232.9 1591.5,-234.4 1619.1,-236.6 1646.6,-239.6 1673.9,-243.4 1701.2,-247.9 1728.4,-253.2 1755.3,-259.2 1782.1,-265.9 1808.7,-273.4 1835.1,-281.6 1861.3,-290.5 1887.2,-300.1 1912.9,-310.5 1938.2,-321.5 1963.2,-333.2 1987.9,-345.6 2012.3,-358.7 2036.3,-372.4 2059.9,-386.8 2083.1,-401.8 2105.8,-417.5 2128.2,-433.8 2150.1,-450.6 2171.5,-468.1 2192.4,-486.2 2212.9,-504.8 2232.8,-523.9 2252.2,-543.6 2271.0,-563.9 2289.3,-584.6 2307.0,-605.8 2324.1,-627.5 2340.6,-649.7 2356.5,-672.3 2371.8,-695.3 2386.4,-718.8 2400.4,-742.6 2413.7,-766.8 2426.4,-791.4 2438.4,-816.3 2449.7,-841.5"/>
</g>
<!-- text box -->
<rect x="202.3" y="238" width="755" height="101" rx="10.5" ry="10.5" fill="#dcdcdc" stroke="#000" stroke-width="3"/>
<text x="222.10" y="307.9" font-size="62.1" font-weight="normal" fill="#000" textLength="167.02" lengthAdjust="spacingAndGlyphs">Μέση</text>
<text x="412.35" y="307.9" font-size="62.1" font-weight="normal" fill="#000" textLength="135.25" lengthAdjust="spacingAndGlyphs">τιμή</text>
<text x="565.52" y="307.9" font-size="62.1" font-weight="normal" fill="#000" textLength="41.06" lengthAdjust="spacingAndGlyphs">8</text>
<text x="624.57" y="307.9" font-size="62.1" font-weight="normal" fill="#000" textLength="311.19" lengthAdjust="spacingAndGlyphs">μοντέλων</text>
<!-- logo box -->
<rect x="172" y="2215.8" width="740.5" height="282" fill="#fff"/>
<g fill="none" stroke="#3a3a3a" stroke-width="1.3">
<circle cx="321.7" cy="2356.8" r="104"/>
<circle cx="321.7" cy="2356.8" r="101"/>
<circle cx="321.7" cy="2356.8" r="81"/>
<circle cx="295" cy="2362" r="25"/>
<path d="M272 2352 Q295 2340 318 2350 M270 2365 Q295 2354 320 2364 M276 2378 Q296 2368 316 2378 M295 2337 V2387"/>
<path d="M285 2392 Q283 2410 278 2428 M305 2392 Q308 2410 312 2428 M295 2388 V2430 M270 2432 H322 M262 2416 L382 2416"/>
<path d="M300 2318 L303 2300 L306 2318 M303 2300 L301 2345"/>
<path d="M336 2285 Q346 2278 352 2288 Q354 2300 344 2304 Q334 2300 336 2285 Z"/>
<path d="M338 2305 Q322 2312 320 2335 L306 2330 M320 2335 Q326 2375 322 2410 Q326 2422 336 2424 M350 2305 Q366 2312 366 2335 Q364 2375 368 2410 Q366 2420 356 2424 M336 2424 H360"/>
<path d="M330 2320 Q345 2350 336 2420 M342 2318 Q358 2350 350 2420 M352 2316 Q362 2350 360 2416 M326 2340 Q340 2372 330 2412"/>
</g>
<defs><path id="arcT" d="M 230.7 2356.8 A 91 91 0 0 1 412.7 2356.8"/><path id="arcB" d="M 224.7 2356.8 A 97 97 0 0 0 418.7 2356.8"/></defs>
<text style="font-family:'Liberation Serif',serif" font-size="13.5" fill="#222" letter-spacing="0.3"><textPath href="#arcT" startOffset="50%" text-anchor="middle" textLength="262" lengthAdjust="spacingAndGlyphs">ΕΘΝΙΚΟΝ ΑΣΤΕΡΟΣΚΟΠΕΙΟΝ ΑΘΗΝΩΝ</textPath></text>
<text style="font-family:'Liberation Serif',serif" font-size="13.5" fill="#222" letter-spacing="0.3"><textPath href="#arcB" startOffset="50%" text-anchor="middle" textLength="280" lengthAdjust="spacingAndGlyphs">NATIONAL OBSERVATORY OF ATHENS</textPath></text>
<!-- meteo logo -->
<path d="M518.6 2315.4 H567.8 L607 2349 Q611 2352.6 615 2349 L652.5 2315.4 H703.7 V2417.8 H652.5 V2384 L615.5 2410.5 Q611 2413.6 606.5 2410.5 L567.8 2384 V2417.8 H518.6 Z" fill="#0a1bd0"/>
<circle cx="518.6" cy="2315.4" r="32.3" fill="#fdc40a"/>
<text x="727" y="2349.7" font-size="45" fill="#1020c8" textLength="146" lengthAdjust="spacingAndGlyphs">Meteo</text>
<text x="725" y="2393.8" font-size="26.5" fill="#1020c8" textLength="100" lengthAdjust="spacingAndGlyphs">Όλα για</text>
<text x="729" y="2417.8" font-size="26.5" fill="#1020c8" textLength="120" lengthAdjust="spacingAndGlyphs">τον καιρό</text>

</g>
<rect x="172.5" y="210.5" width="2701.0" height="2286.0" fill="none" stroke="#000" stroke-width="3"/>
<text x="171.54" y="83.8" font-size="66.8" font-weight="bold" fill="#000" textLength="194.46" lengthAdjust="spacingAndGlyphs">Βάση</text>
<text x="398.48" y="83.8" font-size="66.8" font-weight="bold" fill="#000" textLength="453.15" lengthAdjust="spacingAndGlyphs">πρόγνωσης:</text>
<text x="872.96" y="83.8" font-size="66.8" font-weight="bold" fill="#000" textLength="429.09" lengthAdjust="spacingAndGlyphs">Δεκέμβριος</text>
<text x="1327.91" y="83.8" font-size="66.8" font-weight="bold" fill="#000" textLength="183.18" lengthAdjust="spacingAndGlyphs">2025</text>
<text x="171.63" y="172.9" font-size="66.8" font-weight="bold" fill="#000" textLength="244.76" lengthAdjust="spacingAndGlyphs">Μήνας</text>
<text x="442.17" y="172.9" font-size="66.8" font-weight="bold" fill="#000" textLength="275.58" lengthAdjust="spacingAndGlyphs">ισχύος:</text>
<text x="880.90" y="172.9" font-size="66.8" font-weight="bold" fill="#000" textLength="411.16" lengthAdjust="spacingAndGlyphs">Ιανουάριος</text>
<text x="1315.89" y="172.9" font-size="66.8" font-weight="bold" fill="#000" textLength="184.21" lengthAdjust="spacingAndGlyphs">2026</text>
<text x="1977.65" y="84.1" font-size="67.6" font-weight="normal" fill="#808080" textLength="347.25" lengthAdjust="spacingAndGlyphs">Δεδομένα:</text>
<text x="2343.52" y="84.1" font-size="67.6" font-weight="normal" fill="#808080" textLength="364.63" lengthAdjust="spacingAndGlyphs">Copernicus</text>
<text x="2729.46" y="84.1" font-size="67.6" font-weight="normal" fill="#808080" textLength="142.28" lengthAdjust="spacingAndGlyphs">CCS</text>
<text x="2150.00" y="171.9" font-size="67.6" font-weight="normal" fill="#808080" textLength="313.14" lengthAdjust="spacingAndGlyphs">Ανάλυση:</text>
<text x="2480.69" y="171.9" font-size="67.6" font-weight="normal" fill="#808080" textLength="391.19" lengthAdjust="spacingAndGlyphs">ΕΑΑ/ΜΕΤΕΟ</text>
<text x="128.54" y="2558" font-size="47.5" font-weight="normal" fill="#808080" textLength="126.66" lengthAdjust="spacingAndGlyphs">10°W</text>
<text x="720.77" y="2558" font-size="47.5" font-weight="normal" fill="#808080" textLength="54.15" lengthAdjust="spacingAndGlyphs">0°</text>
<text x="1214.73" y="2558" font-size="47.5" font-weight="normal" fill="#808080" textLength="108.91" lengthAdjust="spacingAndGlyphs">10°E</text>
<text x="1725.92" y="2558" font-size="47.5" font-weight="normal" fill="#808080" textLength="106.16" lengthAdjust="spacingAndGlyphs">20°E</text>
<text x="2247.42" y="2558" font-size="47.5" font-weight="normal" fill="#808080" textLength="106.16" lengthAdjust="spacingAndGlyphs">30°E</text>
<text x="2800.97" y="2558" font-size="47.5" font-weight="normal" fill="#808080" textLength="105.09" lengthAdjust="spacingAndGlyphs">40°E</text>
<text x="30.99" y="416" font-size="47.5" font-weight="normal" fill="#808080" textLength="113.36" lengthAdjust="spacingAndGlyphs">60°N</text>
<text x="31.89" y="1117.8" font-size="47.5" font-weight="normal" fill="#808080" textLength="112.83" lengthAdjust="spacingAndGlyphs">50°N</text>
<text x="30.95" y="1765.7" font-size="47.5" font-weight="normal" fill="#808080" textLength="113.77" lengthAdjust="spacingAndGlyphs">40°N</text>
<text x="30.57" y="2389.7" font-size="47.5" font-weight="normal" fill="#808080" textLength="114.36" lengthAdjust="spacingAndGlyphs">30°N</text>
<text x="340.92" y="2772" font-size="72.6" font-weight="normal" fill="#000" textLength="180.34" lengthAdjust="spacingAndGlyphs">−2.0</text>
<text x="614.52" y="2772" font-size="72.6" font-weight="normal" fill="#000" textLength="176.83" lengthAdjust="spacingAndGlyphs">−1.5</text>
<text x="888.02" y="2772" font-size="72.6" font-weight="normal" fill="#000" textLength="176.83" lengthAdjust="spacingAndGlyphs">−1.0</text>
<text x="1161.52" y="2772" font-size="72.6" font-weight="normal" fill="#000" textLength="176.83" lengthAdjust="spacingAndGlyphs">−0.5</text>
<text x="1462.14" y="2772" font-size="72.6" font-weight="normal" fill="#000" textLength="117.82" lengthAdjust="spacingAndGlyphs">0.0</text>
<text x="1737.03" y="2772" font-size="72.6" font-weight="normal" fill="#000" textLength="117.34" lengthAdjust="spacingAndGlyphs">0.5</text>
<text x="2007.06" y="2772" font-size="72.6" font-weight="normal" fill="#000" textLength="119.36" lengthAdjust="spacingAndGlyphs">1.0</text>
<text x="2280.45" y="2772" font-size="72.6" font-weight="normal" fill="#000" textLength="117.82" lengthAdjust="spacingAndGlyphs">1.5</text>
<text x="2553.13" y="2772" font-size="72.6" font-weight="normal" fill="#000" textLength="119.47" lengthAdjust="spacingAndGlyphs">2.0</text>
<text x="808.80" y="2867" font-size="72.6" font-weight="normal" fill="#000" textLength="381.51" lengthAdjust="spacingAndGlyphs">Απόκλιση*</text>
<text x="1216.95" y="2867" font-size="72.6" font-weight="normal" fill="#000" textLength="535.08" lengthAdjust="spacingAndGlyphs">θερμοκρασίας</text>
<text x="1778.98" y="2867" font-size="72.6" font-weight="normal" fill="#000" textLength="143.38" lengthAdjust="spacingAndGlyphs">στα</text>
<text x="1944.96" y="2867" font-size="72.6" font-weight="normal" fill="#000" textLength="125.74" lengthAdjust="spacingAndGlyphs">2μ.</text>
<text x="2090.14" y="2867" font-size="72.6" font-weight="normal" fill="#000" textLength="148.61" lengthAdjust="spacingAndGlyphs">[°C]</text>
<text x="1837.28" y="2942.5" font-size="52.8" font-weight="normal" fill="#808080" textLength="25.33" lengthAdjust="spacingAndGlyphs">*</text>
<text x="1883.10" y="2942.5" font-size="52.8" font-weight="normal" fill="#808080" textLength="96.71" lengthAdjust="spacingAndGlyphs">από</text>
<text x="1998.05" y="2942.5" font-size="52.8" font-weight="normal" fill="#808080" textLength="132.48" lengthAdjust="spacingAndGlyphs">μέση</text>
<text x="2149.95" y="2942.5" font-size="52.8" font-weight="normal" fill="#808080" textLength="117.24" lengthAdjust="spacingAndGlyphs">τιμή</text>
<text x="2287.26" y="2942.5" font-size="52.8" font-weight="normal" fill="#808080" textLength="246.60" lengthAdjust="spacingAndGlyphs">περιόδου</text>
<text x="2549.47" y="2942.5" font-size="52.8" font-weight="normal" fill="#808080" textLength="296.69" lengthAdjust="spacingAndGlyphs">1993-2016</text>
<!-- colorbar -->
<rect x="433.0" y="2613.0" width="136.8" height="71.0" fill="#9e47c9"/><rect x="569.2" y="2613.0" width="136.8" height="71.0" fill="#5c28ae"/><rect x="705.4" y="2613.0" width="136.8" height="71.0" fill="#140a94"/><rect x="841.7" y="2613.0" width="136.8" height="71.0" fill="#172697"/><rect x="977.9" y="2613.0" width="136.8" height="71.0" fill="#2f57a7"/><rect x="1114.1" y="2613.0" width="136.8" height="71.0" fill="#5287b9"/><rect x="1250.3" y="2613.0" width="136.8" height="71.0" fill="#9ab9d5"/><rect x="1386.5" y="2613.0" width="136.8" height="71.0" fill="#dde7f0"/><rect x="1522.8" y="2613.0" width="136.8" height="71.0" fill="#f8edd8"/><rect x="1659.0" y="2613.0" width="136.8" height="71.0" fill="#ebcd82"/><rect x="1795.2" y="2613.0" width="136.8" height="71.0" fill="#dcaa2c"/><rect x="1931.4" y="2613.0" width="136.8" height="71.0" fill="#c26d18"/><rect x="2067.6" y="2613.0" width="136.8" height="71.0" fill="#a5300b"/><rect x="2203.8" y="2613.0" width="136.8" height="71.0" fill="#90070a"/><rect x="2340.1" y="2613.0" width="136.8" height="71.0" fill="#ab2b2e"/><rect x="2476.3" y="2613.0" width="136.8" height="71.0" fill="#c54e4e"/><polygon points="433.0,2613.0 321,2648.5 433.0,2684.0" fill="#b955d3"/><polygon points="2612.5,2613.0 2725,2648.5 2612.5,2684.0" fill="#cf5f5f"/><polygon points="433.0,2613.0 2612.5,2613.0 2725,2648.5 2612.5,2684.0 433.0,2684.0 321,2648.5" fill="none" stroke="#000" stroke-width="3" stroke-linejoin="miter"/>
<line x1="433.0" y1="2684.0" x2="433.0" y2="2700.0" stroke="#000" stroke-width="3"/><line x1="705.4" y1="2684.0" x2="705.4" y2="2700.0" stroke="#000" stroke-width="3"/><line x1="977.9" y1="2684.0" x2="977.9" y2="2700.0" stroke="#000" stroke-width="3"/><line x1="1250.3" y1="2684.0" x2="1250.3" y2="2700.0" stroke="#000" stroke-width="3"/><line x1="1522.8" y1="2684.0" x2="1522.8" y2="2700.0" stroke="#000" stroke-width="3"/><line x1="1795.2" y1="2684.0" x2="1795.2" y2="2700.0" stroke="#000" stroke-width="3"/><line x1="2067.6" y1="2684.0" x2="2067.6" y2="2700.0" stroke="#000" stroke-width="3"/><line x1="2340.1" y1="2684.0" x2="2340.1" y2="2700.0" stroke="#000" stroke-width="3"/><line x1="2612.5" y1="2684.0" x2="2612.5" y2="2700.0" stroke="#000" stroke-width="3"/>
</svg>
</body></html>
